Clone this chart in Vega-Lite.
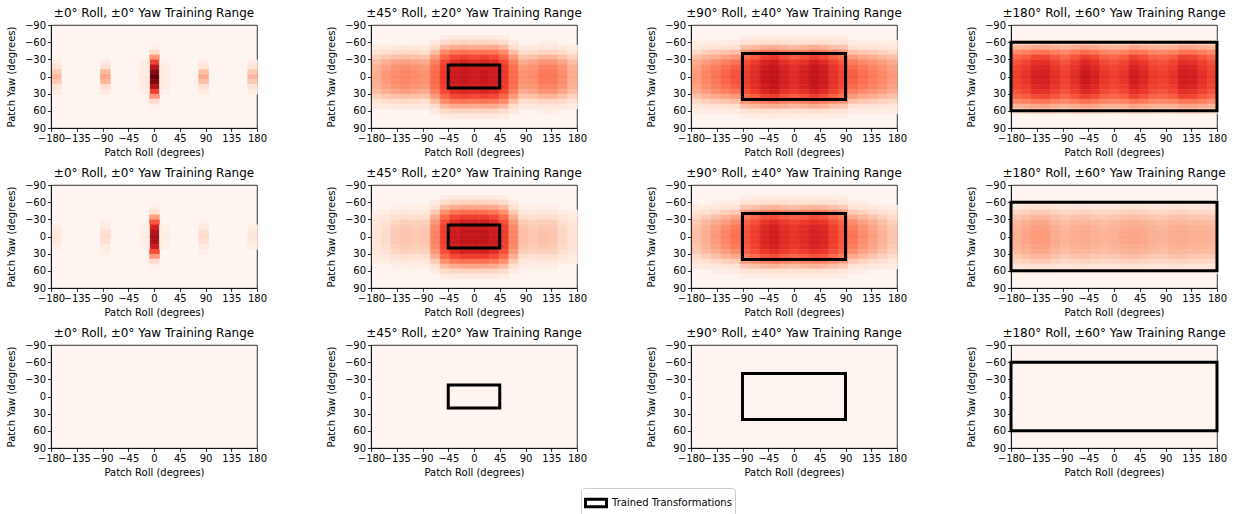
{
"$schema": "https://vega.github.io/schema/vega-lite/v6.json",
"background": "white",
"padding": {"left": 5, "top": 6, "right": 5, "bottom": 5},
"data": {"values": [
{"p":"b","x0":-45,"x1":45,"y0":-20,"y1":20},
{"p":"c","x0":-90,"x1":90,"y0":-40,"y1":40},
{"p":"d","x0":-180,"x1":180,"y0":-60,"y1":60},
{"p":"f","x0":-45,"x1":45,"y0":-20,"y1":20},
{"p":"g","x0":-90,"x1":90,"y0":-40,"y1":40},
{"p":"h","x0":-180,"x1":180,"y0":-60,"y1":60},
{"p":"j","x0":-45,"x1":45,"y0":-20,"y1":20},
{"p":"k","x0":-90,"x1":90,"y0":-40,"y1":40},
{"p":"l","x0":-180,"x1":180,"y0":-60,"y1":60},
{"p":"i"},
{"p":"a","r":0,"y":-51,"v":4},{"p":"a","r":0,"y":-43,"v":14},{"p":"a","r":0,"y":-34,"v":36},{"p":"a","r":0,"y":-26,"v":60},{"p":"a","r":0,"y":-17,"v":80},{"p":"a","r":0,"y":-9,"v":93},{"p":"a","r":0,"y":0,"v":100},{"p":"a","r":0,"y":9,"v":95},{"p":"a","r":0,"y":17,"v":82},{"p":"a","r":0,"y":26,"v":62},{"p":"a","r":0,"y":34,"v":36},{"p":"a","r":0,"y":43,"v":14},{"p":"a","r":0,"y":51,"v":4},
{"p":"a","r":-17,"y":-26,"v":4},{"p":"a","r":-17,"y":-17,"v":5},{"p":"a","r":-17,"y":-9,"v":6},{"p":"a","r":-17,"y":0,"v":6},{"p":"a","r":-17,"y":9,"v":6},{"p":"a","r":-17,"y":17,"v":5},{"p":"a","r":-17,"y":26,"v":4},
{"p":"a","r":17,"y":-26,"v":4},{"p":"a","r":17,"y":-17,"v":5},{"p":"a","r":17,"y":-9,"v":6},{"p":"a","r":17,"y":0,"v":6},{"p":"a","r":17,"y":9,"v":6},{"p":"a","r":17,"y":17,"v":5},{"p":"a","r":17,"y":26,"v":4},
{"p":"a","r":-86,"y":-26,"v":6},{"p":"a","r":-86,"y":-17,"v":12},{"p":"a","r":-86,"y":-9,"v":26},{"p":"a","r":-86,"y":0,"v":32},{"p":"a","r":-86,"y":9,"v":26},{"p":"a","r":-86,"y":17,"v":13},{"p":"a","r":-86,"y":26,"v":6},
{"p":"a","r":86,"y":-26,"v":6},{"p":"a","r":86,"y":-17,"v":11},{"p":"a","r":86,"y":-9,"v":24},{"p":"a","r":86,"y":0,"v":30},{"p":"a","r":86,"y":9,"v":24},{"p":"a","r":86,"y":17,"v":12},{"p":"a","r":86,"y":26,"v":6},
{"p":"a","r":-171,"y":-26,"v":5},{"p":"a","r":-171,"y":-17,"v":10},{"p":"a","r":-171,"y":-9,"v":20},{"p":"a","r":-171,"y":0,"v":26},{"p":"a","r":-171,"y":9,"v":20},{"p":"a","r":-171,"y":17,"v":10},{"p":"a","r":-171,"y":26,"v":5},
{"p":"a","r":171,"y":-26,"v":5},{"p":"a","r":171,"y":-17,"v":10},{"p":"a","r":171,"y":-9,"v":20},{"p":"a","r":171,"y":0,"v":26},{"p":"a","r":171,"y":9,"v":20},{"p":"a","r":171,"y":17,"v":10},{"p":"a","r":171,"y":26,"v":5},
{"p":"e","r":0,"y":-51,"v":4},{"p":"e","r":0,"y":-43,"v":12},{"p":"e","r":0,"y":-34,"v":34},{"p":"e","r":0,"y":-26,"v":55},{"p":"e","r":0,"y":-17,"v":72},{"p":"e","r":0,"y":-9,"v":82},{"p":"e","r":0,"y":0,"v":87},{"p":"e","r":0,"y":9,"v":85},{"p":"e","r":0,"y":17,"v":75},{"p":"e","r":0,"y":26,"v":58},{"p":"e","r":0,"y":34,"v":36},{"p":"e","r":0,"y":43,"v":14},{"p":"e","r":0,"y":51,"v":4},
{"p":"e","r":-17,"y":-17,"v":4},{"p":"e","r":-17,"y":-9,"v":4},{"p":"e","r":-17,"y":0,"v":5},{"p":"e","r":-17,"y":9,"v":4},{"p":"e","r":-17,"y":17,"v":4},
{"p":"e","r":17,"y":-17,"v":4},{"p":"e","r":17,"y":-9,"v":4},{"p":"e","r":17,"y":0,"v":5},{"p":"e","r":17,"y":9,"v":4},{"p":"e","r":17,"y":17,"v":4},
{"p":"e","r":-86,"y":-26,"v":4},{"p":"e","r":-86,"y":-17,"v":6},{"p":"e","r":-86,"y":-9,"v":12},{"p":"e","r":-86,"y":0,"v":14},{"p":"e","r":-86,"y":9,"v":12},{"p":"e","r":-86,"y":17,"v":6},{"p":"e","r":-86,"y":26,"v":4},
{"p":"e","r":86,"y":-26,"v":4},{"p":"e","r":86,"y":-17,"v":6},{"p":"e","r":86,"y":-9,"v":12},{"p":"e","r":86,"y":0,"v":14},{"p":"e","r":86,"y":9,"v":12},{"p":"e","r":86,"y":17,"v":6},{"p":"e","r":86,"y":26,"v":4},
{"p":"e","r":-171,"y":-17,"v":4},{"p":"e","r":-171,"y":-9,"v":7},{"p":"e","r":-171,"y":0,"v":8},{"p":"e","r":-171,"y":9,"v":7},{"p":"e","r":-171,"y":17,"v":4},
{"p":"e","r":171,"y":-17,"v":4},{"p":"e","r":171,"y":-9,"v":7},{"p":"e","r":171,"y":0,"v":8},{"p":"e","r":171,"y":9,"v":7},{"p":"e","r":171,"y":17,"v":4},
{"p":"b","r":-171,"y":-51,"v":5},{"p":"b","r":-171,"y":-43,"v":11},{"p":"b","r":-171,"y":-34,"v":17},{"p":"b","r":-171,"y":-26,"v":24},{"p":"b","r":-171,"y":-17,"v":28},{"p":"b","r":-171,"y":-9,"v":29},{"p":"b","r":-171,"y":0,"v":30},{"p":"b","r":-171,"y":9,"v":29},{"p":"b","r":-171,"y":17,"v":28},{"p":"b","r":-171,"y":26,"v":24},{"p":"b","r":-171,"y":34,"v":17},{"p":"b","r":-171,"y":43,"v":11},{"p":"b","r":-171,"y":51,"v":5},
{"p":"b","r":-154,"y":-51,"v":6},{"p":"b","r":-154,"y":-43,"v":13},{"p":"b","r":-154,"y":-34,"v":21},{"p":"b","r":-154,"y":-26,"v":29},{"p":"b","r":-154,"y":-17,"v":33},{"p":"b","r":-154,"y":-9,"v":35},{"p":"b","r":-154,"y":0,"v":36},{"p":"b","r":-154,"y":9,"v":35},{"p":"b","r":-154,"y":17,"v":33},{"p":"b","r":-154,"y":26,"v":29},{"p":"b","r":-154,"y":34,"v":21},{"p":"b","r":-154,"y":43,"v":13},{"p":"b","r":-154,"y":51,"v":6},
{"p":"b","r":-137,"y":-51,"v":7},{"p":"b","r":-137,"y":-43,"v":14},{"p":"b","r":-137,"y":-34,"v":23},{"p":"b","r":-137,"y":-26,"v":32},{"p":"b","r":-137,"y":-17,"v":37},{"p":"b","r":-137,"y":-9,"v":39},{"p":"b","r":-137,"y":0,"v":40},{"p":"b","r":-137,"y":9,"v":39},{"p":"b","r":-137,"y":17,"v":37},{"p":"b","r":-137,"y":26,"v":32},{"p":"b","r":-137,"y":34,"v":23},{"p":"b","r":-137,"y":43,"v":14},{"p":"b","r":-137,"y":51,"v":7},
{"p":"b","r":-120,"y":-51,"v":8},{"p":"b","r":-120,"y":-43,"v":15},{"p":"b","r":-120,"y":-34,"v":24},{"p":"b","r":-120,"y":-26,"v":34},{"p":"b","r":-120,"y":-17,"v":39},{"p":"b","r":-120,"y":-9,"v":41},{"p":"b","r":-120,"y":0,"v":42},{"p":"b","r":-120,"y":9,"v":41},{"p":"b","r":-120,"y":17,"v":39},{"p":"b","r":-120,"y":26,"v":34},{"p":"b","r":-120,"y":34,"v":24},{"p":"b","r":-120,"y":43,"v":15},{"p":"b","r":-120,"y":51,"v":8},
{"p":"b","r":-103,"y":-51,"v":7},{"p":"b","r":-103,"y":-43,"v":14},{"p":"b","r":-103,"y":-34,"v":23},{"p":"b","r":-103,"y":-26,"v":32},{"p":"b","r":-103,"y":-17,"v":37},{"p":"b","r":-103,"y":-9,"v":39},{"p":"b","r":-103,"y":0,"v":40},{"p":"b","r":-103,"y":9,"v":39},{"p":"b","r":-103,"y":17,"v":37},{"p":"b","r":-103,"y":26,"v":32},{"p":"b","r":-103,"y":34,"v":23},{"p":"b","r":-103,"y":43,"v":14},{"p":"b","r":-103,"y":51,"v":7},
{"p":"b","r":-86,"y":-51,"v":7},{"p":"b","r":-86,"y":-43,"v":13},{"p":"b","r":-86,"y":-34,"v":22},{"p":"b","r":-86,"y":-26,"v":30},{"p":"b","r":-86,"y":-17,"v":35},{"p":"b","r":-86,"y":-9,"v":37},{"p":"b","r":-86,"y":0,"v":38},{"p":"b","r":-86,"y":9,"v":37},{"p":"b","r":-86,"y":17,"v":35},{"p":"b","r":-86,"y":26,"v":30},{"p":"b","r":-86,"y":34,"v":22},{"p":"b","r":-86,"y":43,"v":13},{"p":"b","r":-86,"y":51,"v":7},
{"p":"b","r":-69,"y":-60,"v":7},{"p":"b","r":-69,"y":-51,"v":14},{"p":"b","r":-69,"y":-43,"v":24},{"p":"b","r":-69,"y":-34,"v":35},{"p":"b","r":-69,"y":-26,"v":43},{"p":"b","r":-69,"y":-17,"v":48},{"p":"b","r":-69,"y":-9,"v":50},{"p":"b","r":-69,"y":0,"v":50},{"p":"b","r":-69,"y":9,"v":50},{"p":"b","r":-69,"y":17,"v":48},{"p":"b","r":-69,"y":26,"v":43},{"p":"b","r":-69,"y":34,"v":35},{"p":"b","r":-69,"y":43,"v":24},{"p":"b","r":-69,"y":51,"v":14},{"p":"b","r":-69,"y":60,"v":7},
{"p":"b","r":-51,"y":-69,"v":6},{"p":"b","r":-51,"y":-60,"v":14},{"p":"b","r":-51,"y":-51,"v":26},{"p":"b","r":-51,"y":-43,"v":40},{"p":"b","r":-51,"y":-34,"v":51},{"p":"b","r":-51,"y":-26,"v":59},{"p":"b","r":-51,"y":-17,"v":63},{"p":"b","r":-51,"y":-9,"v":64},{"p":"b","r":-51,"y":0,"v":64},{"p":"b","r":-51,"y":9,"v":64},{"p":"b","r":-51,"y":17,"v":63},{"p":"b","r":-51,"y":26,"v":59},{"p":"b","r":-51,"y":34,"v":51},{"p":"b","r":-51,"y":43,"v":40},{"p":"b","r":-51,"y":51,"v":26},{"p":"b","r":-51,"y":60,"v":14},{"p":"b","r":-51,"y":69,"v":6},
{"p":"b","r":-34,"y":-69,"v":7},{"p":"b","r":-34,"y":-60,"v":16},{"p":"b","r":-34,"y":-51,"v":30},{"p":"b","r":-34,"y":-43,"v":46},{"p":"b","r":-34,"y":-34,"v":59},{"p":"b","r":-34,"y":-26,"v":68},{"p":"b","r":-34,"y":-17,"v":73},{"p":"b","r":-34,"y":-9,"v":74},{"p":"b","r":-34,"y":0,"v":74},{"p":"b","r":-34,"y":9,"v":74},{"p":"b","r":-34,"y":17,"v":73},{"p":"b","r":-34,"y":26,"v":68},{"p":"b","r":-34,"y":34,"v":59},{"p":"b","r":-34,"y":43,"v":46},{"p":"b","r":-34,"y":51,"v":30},{"p":"b","r":-34,"y":60,"v":16},{"p":"b","r":-34,"y":69,"v":7},
{"p":"b","r":-17,"y":-69,"v":8},{"p":"b","r":-17,"y":-60,"v":17},{"p":"b","r":-17,"y":-51,"v":30},{"p":"b","r":-17,"y":-43,"v":47},{"p":"b","r":-17,"y":-34,"v":61},{"p":"b","r":-17,"y":-26,"v":70},{"p":"b","r":-17,"y":-17,"v":74},{"p":"b","r":-17,"y":-9,"v":76},{"p":"b","r":-17,"y":0,"v":76},{"p":"b","r":-17,"y":9,"v":76},{"p":"b","r":-17,"y":17,"v":74},{"p":"b","r":-17,"y":26,"v":70},{"p":"b","r":-17,"y":34,"v":61},{"p":"b","r":-17,"y":43,"v":47},{"p":"b","r":-17,"y":51,"v":30},{"p":"b","r":-17,"y":60,"v":17},{"p":"b","r":-17,"y":69,"v":8},
{"p":"b","r":0,"y":-69,"v":7},{"p":"b","r":0,"y":-60,"v":16},{"p":"b","r":0,"y":-51,"v":30},{"p":"b","r":0,"y":-43,"v":46},{"p":"b","r":0,"y":-34,"v":59},{"p":"b","r":0,"y":-26,"v":68},{"p":"b","r":0,"y":-17,"v":73},{"p":"b","r":0,"y":-9,"v":74},{"p":"b","r":0,"y":0,"v":74},{"p":"b","r":0,"y":9,"v":74},{"p":"b","r":0,"y":17,"v":73},{"p":"b","r":0,"y":26,"v":68},{"p":"b","r":0,"y":34,"v":59},{"p":"b","r":0,"y":43,"v":46},{"p":"b","r":0,"y":51,"v":30},{"p":"b","r":0,"y":60,"v":16},{"p":"b","r":0,"y":69,"v":7},
{"p":"b","r":17,"y":-69,"v":8},{"p":"b","r":17,"y":-60,"v":17},{"p":"b","r":17,"y":-51,"v":30},{"p":"b","r":17,"y":-43,"v":47},{"p":"b","r":17,"y":-34,"v":61},{"p":"b","r":17,"y":-26,"v":70},{"p":"b","r":17,"y":-17,"v":74},{"p":"b","r":17,"y":-9,"v":76},{"p":"b","r":17,"y":0,"v":76},{"p":"b","r":17,"y":9,"v":76},{"p":"b","r":17,"y":17,"v":74},{"p":"b","r":17,"y":26,"v":70},{"p":"b","r":17,"y":34,"v":61},{"p":"b","r":17,"y":43,"v":47},{"p":"b","r":17,"y":51,"v":30},{"p":"b","r":17,"y":60,"v":17},{"p":"b","r":17,"y":69,"v":8},
{"p":"b","r":34,"y":-69,"v":7},{"p":"b","r":34,"y":-60,"v":16},{"p":"b","r":34,"y":-51,"v":30},{"p":"b","r":34,"y":-43,"v":46},{"p":"b","r":34,"y":-34,"v":59},{"p":"b","r":34,"y":-26,"v":68},{"p":"b","r":34,"y":-17,"v":73},{"p":"b","r":34,"y":-9,"v":74},{"p":"b","r":34,"y":0,"v":74},{"p":"b","r":34,"y":9,"v":74},{"p":"b","r":34,"y":17,"v":73},{"p":"b","r":34,"y":26,"v":68},{"p":"b","r":34,"y":34,"v":59},{"p":"b","r":34,"y":43,"v":46},{"p":"b","r":34,"y":51,"v":30},{"p":"b","r":34,"y":60,"v":16},{"p":"b","r":34,"y":69,"v":7},
{"p":"b","r":51,"y":-69,"v":6},{"p":"b","r":51,"y":-60,"v":14},{"p":"b","r":51,"y":-51,"v":26},{"p":"b","r":51,"y":-43,"v":40},{"p":"b","r":51,"y":-34,"v":51},{"p":"b","r":51,"y":-26,"v":59},{"p":"b","r":51,"y":-17,"v":63},{"p":"b","r":51,"y":-9,"v":64},{"p":"b","r":51,"y":0,"v":64},{"p":"b","r":51,"y":9,"v":64},{"p":"b","r":51,"y":17,"v":63},{"p":"b","r":51,"y":26,"v":59},{"p":"b","r":51,"y":34,"v":51},{"p":"b","r":51,"y":43,"v":40},{"p":"b","r":51,"y":51,"v":26},{"p":"b","r":51,"y":60,"v":14},{"p":"b","r":51,"y":69,"v":6},
{"p":"b","r":69,"y":-60,"v":7},{"p":"b","r":69,"y":-51,"v":14},{"p":"b","r":69,"y":-43,"v":24},{"p":"b","r":69,"y":-34,"v":35},{"p":"b","r":69,"y":-26,"v":43},{"p":"b","r":69,"y":-17,"v":48},{"p":"b","r":69,"y":-9,"v":50},{"p":"b","r":69,"y":0,"v":50},{"p":"b","r":69,"y":9,"v":50},{"p":"b","r":69,"y":17,"v":48},{"p":"b","r":69,"y":26,"v":43},{"p":"b","r":69,"y":34,"v":35},{"p":"b","r":69,"y":43,"v":24},{"p":"b","r":69,"y":51,"v":14},{"p":"b","r":69,"y":60,"v":7},
{"p":"b","r":86,"y":-51,"v":7},{"p":"b","r":86,"y":-43,"v":13},{"p":"b","r":86,"y":-34,"v":22},{"p":"b","r":86,"y":-26,"v":30},{"p":"b","r":86,"y":-17,"v":35},{"p":"b","r":86,"y":-9,"v":37},{"p":"b","r":86,"y":0,"v":38},{"p":"b","r":86,"y":9,"v":37},{"p":"b","r":86,"y":17,"v":35},{"p":"b","r":86,"y":26,"v":30},{"p":"b","r":86,"y":34,"v":22},{"p":"b","r":86,"y":43,"v":13},{"p":"b","r":86,"y":51,"v":7},
{"p":"b","r":103,"y":-51,"v":7},{"p":"b","r":103,"y":-43,"v":14},{"p":"b","r":103,"y":-34,"v":23},{"p":"b","r":103,"y":-26,"v":32},{"p":"b","r":103,"y":-17,"v":37},{"p":"b","r":103,"y":-9,"v":39},{"p":"b","r":103,"y":0,"v":40},{"p":"b","r":103,"y":9,"v":39},{"p":"b","r":103,"y":17,"v":37},{"p":"b","r":103,"y":26,"v":32},{"p":"b","r":103,"y":34,"v":23},{"p":"b","r":103,"y":43,"v":14},{"p":"b","r":103,"y":51,"v":7},
{"p":"b","r":120,"y":-60,"v":4},{"p":"b","r":120,"y":-51,"v":8},{"p":"b","r":120,"y":-43,"v":16},{"p":"b","r":120,"y":-34,"v":27},{"p":"b","r":120,"y":-26,"v":37},{"p":"b","r":120,"y":-17,"v":42},{"p":"b","r":120,"y":-9,"v":45},{"p":"b","r":120,"y":0,"v":46},{"p":"b","r":120,"y":9,"v":45},{"p":"b","r":120,"y":17,"v":42},{"p":"b","r":120,"y":26,"v":37},{"p":"b","r":120,"y":34,"v":27},{"p":"b","r":120,"y":43,"v":16},{"p":"b","r":120,"y":51,"v":8},{"p":"b","r":120,"y":60,"v":4},
{"p":"b","r":137,"y":-60,"v":4},{"p":"b","r":137,"y":-51,"v":8},{"p":"b","r":137,"y":-43,"v":16},{"p":"b","r":137,"y":-34,"v":27},{"p":"b","r":137,"y":-26,"v":37},{"p":"b","r":137,"y":-17,"v":42},{"p":"b","r":137,"y":-9,"v":45},{"p":"b","r":137,"y":0,"v":46},{"p":"b","r":137,"y":9,"v":45},{"p":"b","r":137,"y":17,"v":42},{"p":"b","r":137,"y":26,"v":37},{"p":"b","r":137,"y":34,"v":27},{"p":"b","r":137,"y":43,"v":16},{"p":"b","r":137,"y":51,"v":8},{"p":"b","r":137,"y":60,"v":4},
{"p":"b","r":154,"y":-51,"v":7},{"p":"b","r":154,"y":-43,"v":14},{"p":"b","r":154,"y":-34,"v":23},{"p":"b","r":154,"y":-26,"v":32},{"p":"b","r":154,"y":-17,"v":37},{"p":"b","r":154,"y":-9,"v":39},{"p":"b","r":154,"y":0,"v":40},{"p":"b","r":154,"y":9,"v":39},{"p":"b","r":154,"y":17,"v":37},{"p":"b","r":154,"y":26,"v":32},{"p":"b","r":154,"y":34,"v":23},{"p":"b","r":154,"y":43,"v":14},{"p":"b","r":154,"y":51,"v":7},
{"p":"b","r":171,"y":-51,"v":5},{"p":"b","r":171,"y":-43,"v":11},{"p":"b","r":171,"y":-34,"v":17},{"p":"b","r":171,"y":-26,"v":24},{"p":"b","r":171,"y":-17,"v":28},{"p":"b","r":171,"y":-9,"v":29},{"p":"b","r":171,"y":0,"v":30},{"p":"b","r":171,"y":9,"v":29},{"p":"b","r":171,"y":17,"v":28},{"p":"b","r":171,"y":26,"v":24},{"p":"b","r":171,"y":34,"v":17},{"p":"b","r":171,"y":43,"v":11},{"p":"b","r":171,"y":51,"v":5},
{"p":"c","r":-171,"y":-60,"v":4},{"p":"c","r":-171,"y":-51,"v":8},{"p":"c","r":-171,"y":-43,"v":15},{"p":"c","r":-171,"y":-34,"v":23},{"p":"c","r":-171,"y":-26,"v":30},{"p":"c","r":-171,"y":-17,"v":33},{"p":"c","r":-171,"y":-9,"v":35},{"p":"c","r":-171,"y":0,"v":36},{"p":"c","r":-171,"y":9,"v":35},{"p":"c","r":-171,"y":17,"v":33},{"p":"c","r":-171,"y":26,"v":30},{"p":"c","r":-171,"y":34,"v":23},{"p":"c","r":-171,"y":43,"v":15},{"p":"c","r":-171,"y":51,"v":8},{"p":"c","r":-171,"y":60,"v":4},
{"p":"c","r":-154,"y":-60,"v":4},{"p":"c","r":-154,"y":-51,"v":10},{"p":"c","r":-154,"y":-43,"v":18},{"p":"c","r":-154,"y":-34,"v":27},{"p":"c","r":-154,"y":-26,"v":34},{"p":"c","r":-154,"y":-17,"v":39},{"p":"c","r":-154,"y":-9,"v":41},{"p":"c","r":-154,"y":0,"v":42},{"p":"c","r":-154,"y":9,"v":41},{"p":"c","r":-154,"y":17,"v":39},{"p":"c","r":-154,"y":26,"v":34},{"p":"c","r":-154,"y":34,"v":27},{"p":"c","r":-154,"y":43,"v":18},{"p":"c","r":-154,"y":51,"v":10},{"p":"c","r":-154,"y":60,"v":4},
{"p":"c","r":-137,"y":-60,"v":5},{"p":"c","r":-137,"y":-51,"v":11},{"p":"c","r":-137,"y":-43,"v":20},{"p":"c","r":-137,"y":-34,"v":30},{"p":"c","r":-137,"y":-26,"v":39},{"p":"c","r":-137,"y":-17,"v":44},{"p":"c","r":-137,"y":-9,"v":46},{"p":"c","r":-137,"y":0,"v":47},{"p":"c","r":-137,"y":9,"v":46},{"p":"c","r":-137,"y":17,"v":44},{"p":"c","r":-137,"y":26,"v":39},{"p":"c","r":-137,"y":34,"v":30},{"p":"c","r":-137,"y":43,"v":20},{"p":"c","r":-137,"y":51,"v":11},{"p":"c","r":-137,"y":60,"v":5},
{"p":"c","r":-120,"y":-60,"v":5},{"p":"c","r":-120,"y":-51,"v":12},{"p":"c","r":-120,"y":-43,"v":22},{"p":"c","r":-120,"y":-34,"v":33},{"p":"c","r":-120,"y":-26,"v":43},{"p":"c","r":-120,"y":-17,"v":48},{"p":"c","r":-120,"y":-9,"v":51},{"p":"c","r":-120,"y":0,"v":52},{"p":"c","r":-120,"y":9,"v":51},{"p":"c","r":-120,"y":17,"v":48},{"p":"c","r":-120,"y":26,"v":43},{"p":"c","r":-120,"y":34,"v":33},{"p":"c","r":-120,"y":43,"v":22},{"p":"c","r":-120,"y":51,"v":12},{"p":"c","r":-120,"y":60,"v":5},
{"p":"c","r":-103,"y":-60,"v":6},{"p":"c","r":-103,"y":-51,"v":13},{"p":"c","r":-103,"y":-43,"v":24},{"p":"c","r":-103,"y":-34,"v":36},{"p":"c","r":-103,"y":-26,"v":47},{"p":"c","r":-103,"y":-17,"v":53},{"p":"c","r":-103,"y":-9,"v":56},{"p":"c","r":-103,"y":0,"v":57},{"p":"c","r":-103,"y":9,"v":56},{"p":"c","r":-103,"y":17,"v":53},{"p":"c","r":-103,"y":26,"v":47},{"p":"c","r":-103,"y":34,"v":36},{"p":"c","r":-103,"y":43,"v":24},{"p":"c","r":-103,"y":51,"v":13},{"p":"c","r":-103,"y":60,"v":6},
{"p":"c","r":-86,"y":-69,"v":4},{"p":"c","r":-86,"y":-60,"v":11},{"p":"c","r":-86,"y":-51,"v":23},{"p":"c","r":-86,"y":-43,"v":37},{"p":"c","r":-86,"y":-34,"v":50},{"p":"c","r":-86,"y":-26,"v":57},{"p":"c","r":-86,"y":-17,"v":61},{"p":"c","r":-86,"y":-9,"v":62},{"p":"c","r":-86,"y":0,"v":62},{"p":"c","r":-86,"y":9,"v":62},{"p":"c","r":-86,"y":17,"v":61},{"p":"c","r":-86,"y":26,"v":57},{"p":"c","r":-86,"y":34,"v":50},{"p":"c","r":-86,"y":43,"v":37},{"p":"c","r":-86,"y":51,"v":23},{"p":"c","r":-86,"y":60,"v":11},{"p":"c","r":-86,"y":69,"v":4},
{"p":"c","r":-69,"y":-69,"v":5},{"p":"c","r":-69,"y":-60,"v":12},{"p":"c","r":-69,"y":-51,"v":25},{"p":"c","r":-69,"y":-43,"v":41},{"p":"c","r":-69,"y":-34,"v":54},{"p":"c","r":-69,"y":-26,"v":63},{"p":"c","r":-69,"y":-17,"v":67},{"p":"c","r":-69,"y":-9,"v":68},{"p":"c","r":-69,"y":0,"v":68},{"p":"c","r":-69,"y":9,"v":68},{"p":"c","r":-69,"y":17,"v":67},{"p":"c","r":-69,"y":26,"v":63},{"p":"c","r":-69,"y":34,"v":54},{"p":"c","r":-69,"y":43,"v":41},{"p":"c","r":-69,"y":51,"v":25},{"p":"c","r":-69,"y":60,"v":12},{"p":"c","r":-69,"y":69,"v":5},
{"p":"c","r":-51,"y":-69,"v":5},{"p":"c","r":-51,"y":-60,"v":13},{"p":"c","r":-51,"y":-51,"v":28},{"p":"c","r":-51,"y":-43,"v":46},{"p":"c","r":-51,"y":-34,"v":61},{"p":"c","r":-51,"y":-26,"v":70},{"p":"c","r":-51,"y":-17,"v":74},{"p":"c","r":-51,"y":-9,"v":76},{"p":"c","r":-51,"y":0,"v":76},{"p":"c","r":-51,"y":9,"v":76},{"p":"c","r":-51,"y":17,"v":74},{"p":"c","r":-51,"y":26,"v":70},{"p":"c","r":-51,"y":34,"v":61},{"p":"c","r":-51,"y":43,"v":46},{"p":"c","r":-51,"y":51,"v":28},{"p":"c","r":-51,"y":60,"v":13},{"p":"c","r":-51,"y":69,"v":5},
{"p":"c","r":-34,"y":-69,"v":6},{"p":"c","r":-34,"y":-60,"v":13},{"p":"c","r":-34,"y":-51,"v":29},{"p":"c","r":-34,"y":-43,"v":47},{"p":"c","r":-34,"y":-34,"v":63},{"p":"c","r":-34,"y":-26,"v":73},{"p":"c","r":-34,"y":-17,"v":77},{"p":"c","r":-34,"y":-9,"v":79},{"p":"c","r":-34,"y":0,"v":79},{"p":"c","r":-34,"y":9,"v":79},{"p":"c","r":-34,"y":17,"v":77},{"p":"c","r":-34,"y":26,"v":73},{"p":"c","r":-34,"y":34,"v":63},{"p":"c","r":-34,"y":43,"v":47},{"p":"c","r":-34,"y":51,"v":29},{"p":"c","r":-34,"y":60,"v":13},{"p":"c","r":-34,"y":69,"v":6},
{"p":"c","r":-17,"y":-69,"v":5},{"p":"c","r":-17,"y":-60,"v":12},{"p":"c","r":-17,"y":-51,"v":27},{"p":"c","r":-17,"y":-43,"v":43},{"p":"c","r":-17,"y":-34,"v":58},{"p":"c","r":-17,"y":-26,"v":66},{"p":"c","r":-17,"y":-17,"v":71},{"p":"c","r":-17,"y":-9,"v":72},{"p":"c","r":-17,"y":0,"v":72},{"p":"c","r":-17,"y":9,"v":72},{"p":"c","r":-17,"y":17,"v":71},{"p":"c","r":-17,"y":26,"v":66},{"p":"c","r":-17,"y":34,"v":58},{"p":"c","r":-17,"y":43,"v":43},{"p":"c","r":-17,"y":51,"v":27},{"p":"c","r":-17,"y":60,"v":12},{"p":"c","r":-17,"y":69,"v":5},
{"p":"c","r":0,"y":-69,"v":5},{"p":"c","r":0,"y":-60,"v":12},{"p":"c","r":0,"y":-51,"v":25},{"p":"c","r":0,"y":-43,"v":41},{"p":"c","r":0,"y":-34,"v":54},{"p":"c","r":0,"y":-26,"v":63},{"p":"c","r":0,"y":-17,"v":67},{"p":"c","r":0,"y":-9,"v":68},{"p":"c","r":0,"y":0,"v":68},{"p":"c","r":0,"y":9,"v":68},{"p":"c","r":0,"y":17,"v":67},{"p":"c","r":0,"y":26,"v":63},{"p":"c","r":0,"y":34,"v":54},{"p":"c","r":0,"y":43,"v":41},{"p":"c","r":0,"y":51,"v":25},{"p":"c","r":0,"y":60,"v":12},{"p":"c","r":0,"y":69,"v":5},
{"p":"c","r":17,"y":-69,"v":5},{"p":"c","r":17,"y":-60,"v":12},{"p":"c","r":17,"y":-51,"v":27},{"p":"c","r":17,"y":-43,"v":43},{"p":"c","r":17,"y":-34,"v":58},{"p":"c","r":17,"y":-26,"v":66},{"p":"c","r":17,"y":-17,"v":71},{"p":"c","r":17,"y":-9,"v":72},{"p":"c","r":17,"y":0,"v":72},{"p":"c","r":17,"y":9,"v":72},{"p":"c","r":17,"y":17,"v":71},{"p":"c","r":17,"y":26,"v":66},{"p":"c","r":17,"y":34,"v":58},{"p":"c","r":17,"y":43,"v":43},{"p":"c","r":17,"y":51,"v":27},{"p":"c","r":17,"y":60,"v":12},{"p":"c","r":17,"y":69,"v":5},
{"p":"c","r":34,"y":-69,"v":5},{"p":"c","r":34,"y":-60,"v":13},{"p":"c","r":34,"y":-51,"v":29},{"p":"c","r":34,"y":-43,"v":47},{"p":"c","r":34,"y":-34,"v":62},{"p":"c","r":34,"y":-26,"v":72},{"p":"c","r":34,"y":-17,"v":76},{"p":"c","r":34,"y":-9,"v":78},{"p":"c","r":34,"y":0,"v":78},{"p":"c","r":34,"y":9,"v":78},{"p":"c","r":34,"y":17,"v":76},{"p":"c","r":34,"y":26,"v":72},{"p":"c","r":34,"y":34,"v":62},{"p":"c","r":34,"y":43,"v":47},{"p":"c","r":34,"y":51,"v":29},{"p":"c","r":34,"y":60,"v":13},{"p":"c","r":34,"y":69,"v":5},
{"p":"c","r":51,"y":-69,"v":5},{"p":"c","r":51,"y":-60,"v":13},{"p":"c","r":51,"y":-51,"v":27},{"p":"c","r":51,"y":-43,"v":44},{"p":"c","r":51,"y":-34,"v":59},{"p":"c","r":51,"y":-26,"v":68},{"p":"c","r":51,"y":-17,"v":73},{"p":"c","r":51,"y":-9,"v":74},{"p":"c","r":51,"y":0,"v":74},{"p":"c","r":51,"y":9,"v":74},{"p":"c","r":51,"y":17,"v":73},{"p":"c","r":51,"y":26,"v":68},{"p":"c","r":51,"y":34,"v":59},{"p":"c","r":51,"y":43,"v":44},{"p":"c","r":51,"y":51,"v":27},{"p":"c","r":51,"y":60,"v":13},{"p":"c","r":51,"y":69,"v":5},
{"p":"c","r":69,"y":-69,"v":5},{"p":"c","r":69,"y":-60,"v":11},{"p":"c","r":69,"y":-51,"v":24},{"p":"c","r":69,"y":-43,"v":40},{"p":"c","r":69,"y":-34,"v":53},{"p":"c","r":69,"y":-26,"v":61},{"p":"c","r":69,"y":-17,"v":65},{"p":"c","r":69,"y":-9,"v":66},{"p":"c","r":69,"y":0,"v":66},{"p":"c","r":69,"y":9,"v":66},{"p":"c","r":69,"y":17,"v":65},{"p":"c","r":69,"y":26,"v":61},{"p":"c","r":69,"y":34,"v":53},{"p":"c","r":69,"y":43,"v":40},{"p":"c","r":69,"y":51,"v":24},{"p":"c","r":69,"y":60,"v":11},{"p":"c","r":69,"y":69,"v":5},
{"p":"c","r":86,"y":-69,"v":4},{"p":"c","r":86,"y":-60,"v":10},{"p":"c","r":86,"y":-51,"v":22},{"p":"c","r":86,"y":-43,"v":36},{"p":"c","r":86,"y":-34,"v":48},{"p":"c","r":86,"y":-26,"v":55},{"p":"c","r":86,"y":-17,"v":59},{"p":"c","r":86,"y":-9,"v":60},{"p":"c","r":86,"y":0,"v":60},{"p":"c","r":86,"y":9,"v":60},{"p":"c","r":86,"y":17,"v":59},{"p":"c","r":86,"y":26,"v":55},{"p":"c","r":86,"y":34,"v":48},{"p":"c","r":86,"y":43,"v":36},{"p":"c","r":86,"y":51,"v":22},{"p":"c","r":86,"y":60,"v":10},{"p":"c","r":86,"y":69,"v":4},
{"p":"c","r":103,"y":-60,"v":5},{"p":"c","r":103,"y":-51,"v":12},{"p":"c","r":103,"y":-43,"v":23},{"p":"c","r":103,"y":-34,"v":35},{"p":"c","r":103,"y":-26,"v":44},{"p":"c","r":103,"y":-17,"v":50},{"p":"c","r":103,"y":-9,"v":53},{"p":"c","r":103,"y":0,"v":54},{"p":"c","r":103,"y":9,"v":53},{"p":"c","r":103,"y":17,"v":50},{"p":"c","r":103,"y":26,"v":44},{"p":"c","r":103,"y":34,"v":35},{"p":"c","r":103,"y":43,"v":23},{"p":"c","r":103,"y":51,"v":12},{"p":"c","r":103,"y":60,"v":5},
{"p":"c","r":120,"y":-60,"v":5},{"p":"c","r":120,"y":-51,"v":11},{"p":"c","r":120,"y":-43,"v":21},{"p":"c","r":120,"y":-34,"v":31},{"p":"c","r":120,"y":-26,"v":40},{"p":"c","r":120,"y":-17,"v":46},{"p":"c","r":120,"y":-9,"v":48},{"p":"c","r":120,"y":0,"v":49},{"p":"c","r":120,"y":9,"v":48},{"p":"c","r":120,"y":17,"v":46},{"p":"c","r":120,"y":26,"v":40},{"p":"c","r":120,"y":34,"v":31},{"p":"c","r":120,"y":43,"v":21},{"p":"c","r":120,"y":51,"v":11},{"p":"c","r":120,"y":60,"v":5},
{"p":"c","r":137,"y":-60,"v":5},{"p":"c","r":137,"y":-51,"v":10},{"p":"c","r":137,"y":-43,"v":19},{"p":"c","r":137,"y":-34,"v":29},{"p":"c","r":137,"y":-26,"v":37},{"p":"c","r":137,"y":-17,"v":42},{"p":"c","r":137,"y":-9,"v":44},{"p":"c","r":137,"y":0,"v":45},{"p":"c","r":137,"y":9,"v":44},{"p":"c","r":137,"y":17,"v":42},{"p":"c","r":137,"y":26,"v":37},{"p":"c","r":137,"y":34,"v":29},{"p":"c","r":137,"y":43,"v":19},{"p":"c","r":137,"y":51,"v":10},{"p":"c","r":137,"y":60,"v":5},
{"p":"c","r":154,"y":-60,"v":4},{"p":"c","r":154,"y":-51,"v":9},{"p":"c","r":154,"y":-43,"v":17},{"p":"c","r":154,"y":-34,"v":26},{"p":"c","r":154,"y":-26,"v":34},{"p":"c","r":154,"y":-17,"v":38},{"p":"c","r":154,"y":-9,"v":40},{"p":"c","r":154,"y":0,"v":41},{"p":"c","r":154,"y":9,"v":40},{"p":"c","r":154,"y":17,"v":38},{"p":"c","r":154,"y":26,"v":34},{"p":"c","r":154,"y":34,"v":26},{"p":"c","r":154,"y":43,"v":17},{"p":"c","r":154,"y":51,"v":9},{"p":"c","r":154,"y":60,"v":4},
{"p":"c","r":171,"y":-60,"v":4},{"p":"c","r":171,"y":-51,"v":8},{"p":"c","r":171,"y":-43,"v":15},{"p":"c","r":171,"y":-34,"v":23},{"p":"c","r":171,"y":-26,"v":30},{"p":"c","r":171,"y":-17,"v":33},{"p":"c","r":171,"y":-9,"v":35},{"p":"c","r":171,"y":0,"v":36},{"p":"c","r":171,"y":9,"v":35},{"p":"c","r":171,"y":17,"v":33},{"p":"c","r":171,"y":26,"v":30},{"p":"c","r":171,"y":34,"v":23},{"p":"c","r":171,"y":43,"v":15},{"p":"c","r":171,"y":51,"v":8},{"p":"c","r":171,"y":60,"v":4},
{"p":"d","r":-171,"y":-60,"v":12},{"p":"d","r":-171,"y":-51,"v":27},{"p":"d","r":-171,"y":-43,"v":40},{"p":"d","r":-171,"y":-34,"v":51},{"p":"d","r":-171,"y":-26,"v":56},{"p":"d","r":-171,"y":-17,"v":60},{"p":"d","r":-171,"y":-9,"v":61},{"p":"d","r":-171,"y":0,"v":62},{"p":"d","r":-171,"y":9,"v":61},{"p":"d","r":-171,"y":17,"v":60},{"p":"d","r":-171,"y":26,"v":56},{"p":"d","r":-171,"y":34,"v":51},{"p":"d","r":-171,"y":43,"v":40},{"p":"d","r":-171,"y":51,"v":27},{"p":"d","r":-171,"y":60,"v":12},
{"p":"d","r":-154,"y":-60,"v":13},{"p":"d","r":-154,"y":-51,"v":28},{"p":"d","r":-154,"y":-43,"v":42},{"p":"d","r":-154,"y":-34,"v":54},{"p":"d","r":-154,"y":-26,"v":60},{"p":"d","r":-154,"y":-17,"v":63},{"p":"d","r":-154,"y":-9,"v":65},{"p":"d","r":-154,"y":0,"v":66},{"p":"d","r":-154,"y":9,"v":65},{"p":"d","r":-154,"y":17,"v":63},{"p":"d","r":-154,"y":26,"v":60},{"p":"d","r":-154,"y":34,"v":54},{"p":"d","r":-154,"y":43,"v":42},{"p":"d","r":-154,"y":51,"v":28},{"p":"d","r":-154,"y":60,"v":13},
{"p":"d","r":-137,"y":-60,"v":14},{"p":"d","r":-137,"y":-51,"v":31},{"p":"d","r":-137,"y":-43,"v":46},{"p":"d","r":-137,"y":-34,"v":59},{"p":"d","r":-137,"y":-26,"v":66},{"p":"d","r":-137,"y":-17,"v":69},{"p":"d","r":-137,"y":-9,"v":71},{"p":"d","r":-137,"y":0,"v":72},{"p":"d","r":-137,"y":9,"v":71},{"p":"d","r":-137,"y":17,"v":69},{"p":"d","r":-137,"y":26,"v":66},{"p":"d","r":-137,"y":34,"v":59},{"p":"d","r":-137,"y":43,"v":46},{"p":"d","r":-137,"y":51,"v":31},{"p":"d","r":-137,"y":60,"v":14},
{"p":"d","r":-120,"y":-60,"v":15},{"p":"d","r":-120,"y":-51,"v":31},{"p":"d","r":-120,"y":-43,"v":47},{"p":"d","r":-120,"y":-34,"v":60},{"p":"d","r":-120,"y":-26,"v":66},{"p":"d","r":-120,"y":-17,"v":70},{"p":"d","r":-120,"y":-9,"v":72},{"p":"d","r":-120,"y":0,"v":73},{"p":"d","r":-120,"y":9,"v":72},{"p":"d","r":-120,"y":17,"v":70},{"p":"d","r":-120,"y":26,"v":66},{"p":"d","r":-120,"y":34,"v":60},{"p":"d","r":-120,"y":43,"v":47},{"p":"d","r":-120,"y":51,"v":31},{"p":"d","r":-120,"y":60,"v":15},
{"p":"d","r":-103,"y":-60,"v":13},{"p":"d","r":-103,"y":-51,"v":29},{"p":"d","r":-103,"y":-43,"v":43},{"p":"d","r":-103,"y":-34,"v":55},{"p":"d","r":-103,"y":-26,"v":61},{"p":"d","r":-103,"y":-17,"v":64},{"p":"d","r":-103,"y":-9,"v":66},{"p":"d","r":-103,"y":0,"v":67},{"p":"d","r":-103,"y":9,"v":66},{"p":"d","r":-103,"y":17,"v":64},{"p":"d","r":-103,"y":26,"v":61},{"p":"d","r":-103,"y":34,"v":55},{"p":"d","r":-103,"y":43,"v":43},{"p":"d","r":-103,"y":51,"v":29},{"p":"d","r":-103,"y":60,"v":13},
{"p":"d","r":-86,"y":-60,"v":12},{"p":"d","r":-86,"y":-51,"v":27},{"p":"d","r":-86,"y":-43,"v":40},{"p":"d","r":-86,"y":-34,"v":51},{"p":"d","r":-86,"y":-26,"v":56},{"p":"d","r":-86,"y":-17,"v":60},{"p":"d","r":-86,"y":-9,"v":61},{"p":"d","r":-86,"y":0,"v":62},{"p":"d","r":-86,"y":9,"v":61},{"p":"d","r":-86,"y":17,"v":60},{"p":"d","r":-86,"y":26,"v":56},{"p":"d","r":-86,"y":34,"v":51},{"p":"d","r":-86,"y":43,"v":40},{"p":"d","r":-86,"y":51,"v":27},{"p":"d","r":-86,"y":60,"v":12},
{"p":"d","r":-69,"y":-60,"v":14},{"p":"d","r":-69,"y":-51,"v":29},{"p":"d","r":-69,"y":-43,"v":44},{"p":"d","r":-69,"y":-34,"v":56},{"p":"d","r":-69,"y":-26,"v":62},{"p":"d","r":-69,"y":-17,"v":65},{"p":"d","r":-69,"y":-9,"v":67},{"p":"d","r":-69,"y":0,"v":68},{"p":"d","r":-69,"y":9,"v":67},{"p":"d","r":-69,"y":17,"v":65},{"p":"d","r":-69,"y":26,"v":62},{"p":"d","r":-69,"y":34,"v":56},{"p":"d","r":-69,"y":43,"v":44},{"p":"d","r":-69,"y":51,"v":29},{"p":"d","r":-69,"y":60,"v":14},
{"p":"d","r":-51,"y":-60,"v":15},{"p":"d","r":-51,"y":-51,"v":33},{"p":"d","r":-51,"y":-43,"v":49},{"p":"d","r":-51,"y":-34,"v":62},{"p":"d","r":-51,"y":-26,"v":69},{"p":"d","r":-51,"y":-17,"v":73},{"p":"d","r":-51,"y":-9,"v":75},{"p":"d","r":-51,"y":0,"v":76},{"p":"d","r":-51,"y":9,"v":75},{"p":"d","r":-51,"y":17,"v":73},{"p":"d","r":-51,"y":26,"v":69},{"p":"d","r":-51,"y":34,"v":62},{"p":"d","r":-51,"y":43,"v":49},{"p":"d","r":-51,"y":51,"v":33},{"p":"d","r":-51,"y":60,"v":15},
{"p":"d","r":-34,"y":-60,"v":14},{"p":"d","r":-34,"y":-51,"v":31},{"p":"d","r":-34,"y":-43,"v":46},{"p":"d","r":-34,"y":-34,"v":59},{"p":"d","r":-34,"y":-26,"v":66},{"p":"d","r":-34,"y":-17,"v":69},{"p":"d","r":-34,"y":-9,"v":71},{"p":"d","r":-34,"y":0,"v":72},{"p":"d","r":-34,"y":9,"v":71},{"p":"d","r":-34,"y":17,"v":69},{"p":"d","r":-34,"y":26,"v":66},{"p":"d","r":-34,"y":34,"v":59},{"p":"d","r":-34,"y":43,"v":46},{"p":"d","r":-34,"y":51,"v":31},{"p":"d","r":-34,"y":60,"v":14},
{"p":"d","r":-17,"y":-60,"v":13},{"p":"d","r":-17,"y":-51,"v":28},{"p":"d","r":-17,"y":-43,"v":42},{"p":"d","r":-17,"y":-34,"v":53},{"p":"d","r":-17,"y":-26,"v":59},{"p":"d","r":-17,"y":-17,"v":62},{"p":"d","r":-17,"y":-9,"v":64},{"p":"d","r":-17,"y":0,"v":65},{"p":"d","r":-17,"y":9,"v":64},{"p":"d","r":-17,"y":17,"v":62},{"p":"d","r":-17,"y":26,"v":59},{"p":"d","r":-17,"y":34,"v":53},{"p":"d","r":-17,"y":43,"v":42},{"p":"d","r":-17,"y":51,"v":28},{"p":"d","r":-17,"y":60,"v":13},
{"p":"d","r":0,"y":-60,"v":12},{"p":"d","r":0,"y":-51,"v":27},{"p":"d","r":0,"y":-43,"v":40},{"p":"d","r":0,"y":-34,"v":51},{"p":"d","r":0,"y":-26,"v":56},{"p":"d","r":0,"y":-17,"v":60},{"p":"d","r":0,"y":-9,"v":61},{"p":"d","r":0,"y":0,"v":62},{"p":"d","r":0,"y":9,"v":61},{"p":"d","r":0,"y":17,"v":60},{"p":"d","r":0,"y":26,"v":56},{"p":"d","r":0,"y":34,"v":51},{"p":"d","r":0,"y":43,"v":40},{"p":"d","r":0,"y":51,"v":27},{"p":"d","r":0,"y":60,"v":12},
{"p":"d","r":17,"y":-60,"v":13},{"p":"d","r":17,"y":-51,"v":28},{"p":"d","r":17,"y":-43,"v":42},{"p":"d","r":17,"y":-34,"v":54},{"p":"d","r":17,"y":-26,"v":60},{"p":"d","r":17,"y":-17,"v":63},{"p":"d","r":17,"y":-9,"v":65},{"p":"d","r":17,"y":0,"v":66},{"p":"d","r":17,"y":9,"v":65},{"p":"d","r":17,"y":17,"v":63},{"p":"d","r":17,"y":26,"v":60},{"p":"d","r":17,"y":34,"v":54},{"p":"d","r":17,"y":43,"v":42},{"p":"d","r":17,"y":51,"v":28},{"p":"d","r":17,"y":60,"v":13},
{"p":"d","r":34,"y":-60,"v":15},{"p":"d","r":34,"y":-51,"v":32},{"p":"d","r":34,"y":-43,"v":47},{"p":"d","r":34,"y":-34,"v":61},{"p":"d","r":34,"y":-26,"v":67},{"p":"d","r":34,"y":-17,"v":71},{"p":"d","r":34,"y":-9,"v":73},{"p":"d","r":34,"y":0,"v":74},{"p":"d","r":34,"y":9,"v":73},{"p":"d","r":34,"y":17,"v":71},{"p":"d","r":34,"y":26,"v":67},{"p":"d","r":34,"y":34,"v":61},{"p":"d","r":34,"y":43,"v":47},{"p":"d","r":34,"y":51,"v":32},{"p":"d","r":34,"y":60,"v":15},
{"p":"d","r":51,"y":-60,"v":14},{"p":"d","r":51,"y":-51,"v":30},{"p":"d","r":51,"y":-43,"v":45},{"p":"d","r":51,"y":-34,"v":57},{"p":"d","r":51,"y":-26,"v":64},{"p":"d","r":51,"y":-17,"v":67},{"p":"d","r":51,"y":-9,"v":69},{"p":"d","r":51,"y":0,"v":70},{"p":"d","r":51,"y":9,"v":69},{"p":"d","r":51,"y":17,"v":67},{"p":"d","r":51,"y":26,"v":64},{"p":"d","r":51,"y":34,"v":57},{"p":"d","r":51,"y":43,"v":45},{"p":"d","r":51,"y":51,"v":30},{"p":"d","r":51,"y":60,"v":14},
{"p":"d","r":69,"y":-60,"v":13},{"p":"d","r":69,"y":-51,"v":28},{"p":"d","r":69,"y":-43,"v":41},{"p":"d","r":69,"y":-34,"v":52},{"p":"d","r":69,"y":-26,"v":58},{"p":"d","r":69,"y":-17,"v":61},{"p":"d","r":69,"y":-9,"v":63},{"p":"d","r":69,"y":0,"v":64},{"p":"d","r":69,"y":9,"v":63},{"p":"d","r":69,"y":17,"v":61},{"p":"d","r":69,"y":26,"v":58},{"p":"d","r":69,"y":34,"v":52},{"p":"d","r":69,"y":43,"v":41},{"p":"d","r":69,"y":51,"v":28},{"p":"d","r":69,"y":60,"v":13},
{"p":"d","r":86,"y":-60,"v":12},{"p":"d","r":86,"y":-51,"v":27},{"p":"d","r":86,"y":-43,"v":40},{"p":"d","r":86,"y":-34,"v":51},{"p":"d","r":86,"y":-26,"v":56},{"p":"d","r":86,"y":-17,"v":60},{"p":"d","r":86,"y":-9,"v":61},{"p":"d","r":86,"y":0,"v":62},{"p":"d","r":86,"y":9,"v":61},{"p":"d","r":86,"y":17,"v":60},{"p":"d","r":86,"y":26,"v":56},{"p":"d","r":86,"y":34,"v":51},{"p":"d","r":86,"y":43,"v":40},{"p":"d","r":86,"y":51,"v":27},{"p":"d","r":86,"y":60,"v":12},
{"p":"d","r":103,"y":-60,"v":13},{"p":"d","r":103,"y":-51,"v":28},{"p":"d","r":103,"y":-43,"v":42},{"p":"d","r":103,"y":-34,"v":54},{"p":"d","r":103,"y":-26,"v":60},{"p":"d","r":103,"y":-17,"v":63},{"p":"d","r":103,"y":-9,"v":65},{"p":"d","r":103,"y":0,"v":66},{"p":"d","r":103,"y":9,"v":65},{"p":"d","r":103,"y":17,"v":63},{"p":"d","r":103,"y":26,"v":60},{"p":"d","r":103,"y":34,"v":54},{"p":"d","r":103,"y":43,"v":42},{"p":"d","r":103,"y":51,"v":28},{"p":"d","r":103,"y":60,"v":13},
{"p":"d","r":120,"y":-60,"v":15},{"p":"d","r":120,"y":-51,"v":32},{"p":"d","r":120,"y":-43,"v":47},{"p":"d","r":120,"y":-34,"v":61},{"p":"d","r":120,"y":-26,"v":67},{"p":"d","r":120,"y":-17,"v":71},{"p":"d","r":120,"y":-9,"v":73},{"p":"d","r":120,"y":0,"v":74},{"p":"d","r":120,"y":9,"v":73},{"p":"d","r":120,"y":17,"v":71},{"p":"d","r":120,"y":26,"v":67},{"p":"d","r":120,"y":34,"v":61},{"p":"d","r":120,"y":43,"v":47},{"p":"d","r":120,"y":51,"v":32},{"p":"d","r":120,"y":60,"v":15},
{"p":"d","r":137,"y":-60,"v":15},{"p":"d","r":137,"y":-51,"v":31},{"p":"d","r":137,"y":-43,"v":47},{"p":"d","r":137,"y":-34,"v":60},{"p":"d","r":137,"y":-26,"v":66},{"p":"d","r":137,"y":-17,"v":70},{"p":"d","r":137,"y":-9,"v":72},{"p":"d","r":137,"y":0,"v":73},{"p":"d","r":137,"y":9,"v":72},{"p":"d","r":137,"y":17,"v":70},{"p":"d","r":137,"y":26,"v":66},{"p":"d","r":137,"y":34,"v":60},{"p":"d","r":137,"y":43,"v":47},{"p":"d","r":137,"y":51,"v":31},{"p":"d","r":137,"y":60,"v":15},
{"p":"d","r":154,"y":-60,"v":13},{"p":"d","r":154,"y":-51,"v":29},{"p":"d","r":154,"y":-43,"v":43},{"p":"d","r":154,"y":-34,"v":55},{"p":"d","r":154,"y":-26,"v":61},{"p":"d","r":154,"y":-17,"v":64},{"p":"d","r":154,"y":-9,"v":66},{"p":"d","r":154,"y":0,"v":67},{"p":"d","r":154,"y":9,"v":66},{"p":"d","r":154,"y":17,"v":64},{"p":"d","r":154,"y":26,"v":61},{"p":"d","r":154,"y":34,"v":55},{"p":"d","r":154,"y":43,"v":43},{"p":"d","r":154,"y":51,"v":29},{"p":"d","r":154,"y":60,"v":13},
{"p":"d","r":171,"y":-60,"v":12},{"p":"d","r":171,"y":-51,"v":27},{"p":"d","r":171,"y":-43,"v":40},{"p":"d","r":171,"y":-34,"v":51},{"p":"d","r":171,"y":-26,"v":56},{"p":"d","r":171,"y":-17,"v":60},{"p":"d","r":171,"y":-9,"v":61},{"p":"d","r":171,"y":0,"v":62},{"p":"d","r":171,"y":9,"v":61},{"p":"d","r":171,"y":17,"v":60},{"p":"d","r":171,"y":26,"v":56},{"p":"d","r":171,"y":34,"v":51},{"p":"d","r":171,"y":43,"v":40},{"p":"d","r":171,"y":51,"v":27},{"p":"d","r":171,"y":60,"v":12},
{"p":"f","r":-171,"y":-43,"v":4},{"p":"f","r":-171,"y":-34,"v":6},{"p":"f","r":-171,"y":-26,"v":8},{"p":"f","r":-171,"y":-17,"v":9},{"p":"f","r":-171,"y":-9,"v":10},{"p":"f","r":-171,"y":0,"v":10},{"p":"f","r":-171,"y":9,"v":10},{"p":"f","r":-171,"y":17,"v":9},{"p":"f","r":-171,"y":26,"v":8},{"p":"f","r":-171,"y":34,"v":6},{"p":"f","r":-171,"y":43,"v":4},
{"p":"f","r":-154,"y":-43,"v":5},{"p":"f","r":-154,"y":-34,"v":8},{"p":"f","r":-154,"y":-26,"v":11},{"p":"f","r":-154,"y":-17,"v":13},{"p":"f","r":-154,"y":-9,"v":14},{"p":"f","r":-154,"y":0,"v":14},{"p":"f","r":-154,"y":9,"v":14},{"p":"f","r":-154,"y":17,"v":13},{"p":"f","r":-154,"y":26,"v":11},{"p":"f","r":-154,"y":34,"v":8},{"p":"f","r":-154,"y":43,"v":5},
{"p":"f","r":-137,"y":-51,"v":4},{"p":"f","r":-137,"y":-43,"v":7},{"p":"f","r":-137,"y":-34,"v":12},{"p":"f","r":-137,"y":-26,"v":16},{"p":"f","r":-137,"y":-17,"v":18},{"p":"f","r":-137,"y":-9,"v":20},{"p":"f","r":-137,"y":0,"v":20},{"p":"f","r":-137,"y":9,"v":20},{"p":"f","r":-137,"y":17,"v":18},{"p":"f","r":-137,"y":26,"v":16},{"p":"f","r":-137,"y":34,"v":12},{"p":"f","r":-137,"y":43,"v":7},{"p":"f","r":-137,"y":51,"v":4},
{"p":"f","r":-120,"y":-51,"v":4},{"p":"f","r":-120,"y":-43,"v":8},{"p":"f","r":-120,"y":-34,"v":13},{"p":"f","r":-120,"y":-26,"v":18},{"p":"f","r":-120,"y":-17,"v":20},{"p":"f","r":-120,"y":-9,"v":22},{"p":"f","r":-120,"y":0,"v":22},{"p":"f","r":-120,"y":9,"v":22},{"p":"f","r":-120,"y":17,"v":20},{"p":"f","r":-120,"y":26,"v":18},{"p":"f","r":-120,"y":34,"v":13},{"p":"f","r":-120,"y":43,"v":8},{"p":"f","r":-120,"y":51,"v":4},
{"p":"f","r":-103,"y":-51,"v":4},{"p":"f","r":-103,"y":-43,"v":7},{"p":"f","r":-103,"y":-34,"v":12},{"p":"f","r":-103,"y":-26,"v":17},{"p":"f","r":-103,"y":-17,"v":19},{"p":"f","r":-103,"y":-9,"v":21},{"p":"f","r":-103,"y":0,"v":21},{"p":"f","r":-103,"y":9,"v":21},{"p":"f","r":-103,"y":17,"v":19},{"p":"f","r":-103,"y":26,"v":17},{"p":"f","r":-103,"y":34,"v":12},{"p":"f","r":-103,"y":43,"v":7},{"p":"f","r":-103,"y":51,"v":4},
{"p":"f","r":-86,"y":-51,"v":4},{"p":"f","r":-86,"y":-43,"v":8},{"p":"f","r":-86,"y":-34,"v":13},{"p":"f","r":-86,"y":-26,"v":18},{"p":"f","r":-86,"y":-17,"v":20},{"p":"f","r":-86,"y":-9,"v":22},{"p":"f","r":-86,"y":0,"v":22},{"p":"f","r":-86,"y":9,"v":22},{"p":"f","r":-86,"y":17,"v":20},{"p":"f","r":-86,"y":26,"v":18},{"p":"f","r":-86,"y":34,"v":13},{"p":"f","r":-86,"y":43,"v":8},{"p":"f","r":-86,"y":51,"v":4},
{"p":"f","r":-69,"y":-60,"v":6},{"p":"f","r":-69,"y":-51,"v":12},{"p":"f","r":-69,"y":-43,"v":20},{"p":"f","r":-69,"y":-34,"v":29},{"p":"f","r":-69,"y":-26,"v":36},{"p":"f","r":-69,"y":-17,"v":40},{"p":"f","r":-69,"y":-9,"v":42},{"p":"f","r":-69,"y":0,"v":42},{"p":"f","r":-69,"y":9,"v":42},{"p":"f","r":-69,"y":17,"v":40},{"p":"f","r":-69,"y":26,"v":36},{"p":"f","r":-69,"y":34,"v":29},{"p":"f","r":-69,"y":43,"v":20},{"p":"f","r":-69,"y":51,"v":12},{"p":"f","r":-69,"y":60,"v":6},
{"p":"f","r":-51,"y":-69,"v":6},{"p":"f","r":-51,"y":-60,"v":14},{"p":"f","r":-51,"y":-51,"v":25},{"p":"f","r":-51,"y":-43,"v":38},{"p":"f","r":-51,"y":-34,"v":50},{"p":"f","r":-51,"y":-26,"v":57},{"p":"f","r":-51,"y":-17,"v":61},{"p":"f","r":-51,"y":-9,"v":62},{"p":"f","r":-51,"y":0,"v":62},{"p":"f","r":-51,"y":9,"v":62},{"p":"f","r":-51,"y":17,"v":61},{"p":"f","r":-51,"y":26,"v":57},{"p":"f","r":-51,"y":34,"v":50},{"p":"f","r":-51,"y":43,"v":38},{"p":"f","r":-51,"y":51,"v":25},{"p":"f","r":-51,"y":60,"v":14},{"p":"f","r":-51,"y":69,"v":6},
{"p":"f","r":-34,"y":-69,"v":7},{"p":"f","r":-34,"y":-60,"v":16},{"p":"f","r":-34,"y":-51,"v":30},{"p":"f","r":-34,"y":-43,"v":46},{"p":"f","r":-34,"y":-34,"v":59},{"p":"f","r":-34,"y":-26,"v":68},{"p":"f","r":-34,"y":-17,"v":73},{"p":"f","r":-34,"y":-9,"v":74},{"p":"f","r":-34,"y":0,"v":74},{"p":"f","r":-34,"y":9,"v":74},{"p":"f","r":-34,"y":17,"v":73},{"p":"f","r":-34,"y":26,"v":68},{"p":"f","r":-34,"y":34,"v":59},{"p":"f","r":-34,"y":43,"v":46},{"p":"f","r":-34,"y":51,"v":30},{"p":"f","r":-34,"y":60,"v":16},{"p":"f","r":-34,"y":69,"v":7},
{"p":"f","r":-17,"y":-69,"v":8},{"p":"f","r":-17,"y":-60,"v":17},{"p":"f","r":-17,"y":-51,"v":31},{"p":"f","r":-17,"y":-43,"v":48},{"p":"f","r":-17,"y":-34,"v":62},{"p":"f","r":-17,"y":-26,"v":72},{"p":"f","r":-17,"y":-17,"v":76},{"p":"f","r":-17,"y":-9,"v":78},{"p":"f","r":-17,"y":0,"v":78},{"p":"f","r":-17,"y":9,"v":78},{"p":"f","r":-17,"y":17,"v":76},{"p":"f","r":-17,"y":26,"v":72},{"p":"f","r":-17,"y":34,"v":62},{"p":"f","r":-17,"y":43,"v":48},{"p":"f","r":-17,"y":51,"v":31},{"p":"f","r":-17,"y":60,"v":17},{"p":"f","r":-17,"y":69,"v":8},
{"p":"f","r":0,"y":-69,"v":8},{"p":"f","r":0,"y":-60,"v":17},{"p":"f","r":0,"y":-51,"v":31},{"p":"f","r":0,"y":-43,"v":48},{"p":"f","r":0,"y":-34,"v":62},{"p":"f","r":0,"y":-26,"v":72},{"p":"f","r":0,"y":-17,"v":76},{"p":"f","r":0,"y":-9,"v":78},{"p":"f","r":0,"y":0,"v":78},{"p":"f","r":0,"y":9,"v":78},{"p":"f","r":0,"y":17,"v":76},{"p":"f","r":0,"y":26,"v":72},{"p":"f","r":0,"y":34,"v":62},{"p":"f","r":0,"y":43,"v":48},{"p":"f","r":0,"y":51,"v":31},{"p":"f","r":0,"y":60,"v":17},{"p":"f","r":0,"y":69,"v":8},
{"p":"f","r":17,"y":-69,"v":8},{"p":"f","r":17,"y":-60,"v":17},{"p":"f","r":17,"y":-51,"v":31},{"p":"f","r":17,"y":-43,"v":48},{"p":"f","r":17,"y":-34,"v":62},{"p":"f","r":17,"y":-26,"v":72},{"p":"f","r":17,"y":-17,"v":76},{"p":"f","r":17,"y":-9,"v":78},{"p":"f","r":17,"y":0,"v":78},{"p":"f","r":17,"y":9,"v":78},{"p":"f","r":17,"y":17,"v":76},{"p":"f","r":17,"y":26,"v":72},{"p":"f","r":17,"y":34,"v":62},{"p":"f","r":17,"y":43,"v":48},{"p":"f","r":17,"y":51,"v":31},{"p":"f","r":17,"y":60,"v":17},{"p":"f","r":17,"y":69,"v":8},
{"p":"f","r":34,"y":-69,"v":7},{"p":"f","r":34,"y":-60,"v":16},{"p":"f","r":34,"y":-51,"v":30},{"p":"f","r":34,"y":-43,"v":46},{"p":"f","r":34,"y":-34,"v":59},{"p":"f","r":34,"y":-26,"v":68},{"p":"f","r":34,"y":-17,"v":73},{"p":"f","r":34,"y":-9,"v":74},{"p":"f","r":34,"y":0,"v":74},{"p":"f","r":34,"y":9,"v":74},{"p":"f","r":34,"y":17,"v":73},{"p":"f","r":34,"y":26,"v":68},{"p":"f","r":34,"y":34,"v":59},{"p":"f","r":34,"y":43,"v":46},{"p":"f","r":34,"y":51,"v":30},{"p":"f","r":34,"y":60,"v":16},{"p":"f","r":34,"y":69,"v":7},
{"p":"f","r":51,"y":-69,"v":6},{"p":"f","r":51,"y":-60,"v":14},{"p":"f","r":51,"y":-51,"v":25},{"p":"f","r":51,"y":-43,"v":38},{"p":"f","r":51,"y":-34,"v":50},{"p":"f","r":51,"y":-26,"v":57},{"p":"f","r":51,"y":-17,"v":61},{"p":"f","r":51,"y":-9,"v":62},{"p":"f","r":51,"y":0,"v":62},{"p":"f","r":51,"y":9,"v":62},{"p":"f","r":51,"y":17,"v":61},{"p":"f","r":51,"y":26,"v":57},{"p":"f","r":51,"y":34,"v":50},{"p":"f","r":51,"y":43,"v":38},{"p":"f","r":51,"y":51,"v":25},{"p":"f","r":51,"y":60,"v":14},{"p":"f","r":51,"y":69,"v":6},
{"p":"f","r":69,"y":-60,"v":6},{"p":"f","r":69,"y":-51,"v":12},{"p":"f","r":69,"y":-43,"v":20},{"p":"f","r":69,"y":-34,"v":29},{"p":"f","r":69,"y":-26,"v":36},{"p":"f","r":69,"y":-17,"v":40},{"p":"f","r":69,"y":-9,"v":42},{"p":"f","r":69,"y":0,"v":42},{"p":"f","r":69,"y":9,"v":42},{"p":"f","r":69,"y":17,"v":40},{"p":"f","r":69,"y":26,"v":36},{"p":"f","r":69,"y":34,"v":29},{"p":"f","r":69,"y":43,"v":20},{"p":"f","r":69,"y":51,"v":12},{"p":"f","r":69,"y":60,"v":6},
{"p":"f","r":86,"y":-51,"v":4},{"p":"f","r":86,"y":-43,"v":8},{"p":"f","r":86,"y":-34,"v":14},{"p":"f","r":86,"y":-26,"v":19},{"p":"f","r":86,"y":-17,"v":22},{"p":"f","r":86,"y":-9,"v":24},{"p":"f","r":86,"y":0,"v":24},{"p":"f","r":86,"y":9,"v":24},{"p":"f","r":86,"y":17,"v":22},{"p":"f","r":86,"y":26,"v":19},{"p":"f","r":86,"y":34,"v":14},{"p":"f","r":86,"y":43,"v":8},{"p":"f","r":86,"y":51,"v":4},
{"p":"f","r":103,"y":-51,"v":4},{"p":"f","r":103,"y":-43,"v":7},{"p":"f","r":103,"y":-34,"v":12},{"p":"f","r":103,"y":-26,"v":17},{"p":"f","r":103,"y":-17,"v":19},{"p":"f","r":103,"y":-9,"v":21},{"p":"f","r":103,"y":0,"v":21},{"p":"f","r":103,"y":9,"v":21},{"p":"f","r":103,"y":17,"v":19},{"p":"f","r":103,"y":26,"v":17},{"p":"f","r":103,"y":34,"v":12},{"p":"f","r":103,"y":43,"v":7},{"p":"f","r":103,"y":51,"v":4},
{"p":"f","r":120,"y":-51,"v":4},{"p":"f","r":120,"y":-43,"v":8},{"p":"f","r":120,"y":-34,"v":13},{"p":"f","r":120,"y":-26,"v":18},{"p":"f","r":120,"y":-17,"v":21},{"p":"f","r":120,"y":-9,"v":23},{"p":"f","r":120,"y":0,"v":23},{"p":"f","r":120,"y":9,"v":23},{"p":"f","r":120,"y":17,"v":21},{"p":"f","r":120,"y":26,"v":18},{"p":"f","r":120,"y":34,"v":13},{"p":"f","r":120,"y":43,"v":8},{"p":"f","r":120,"y":51,"v":4},
{"p":"f","r":137,"y":-51,"v":4},{"p":"f","r":137,"y":-43,"v":8},{"p":"f","r":137,"y":-34,"v":13},{"p":"f","r":137,"y":-26,"v":18},{"p":"f","r":137,"y":-17,"v":20},{"p":"f","r":137,"y":-9,"v":22},{"p":"f","r":137,"y":0,"v":22},{"p":"f","r":137,"y":9,"v":22},{"p":"f","r":137,"y":17,"v":20},{"p":"f","r":137,"y":26,"v":18},{"p":"f","r":137,"y":34,"v":13},{"p":"f","r":137,"y":43,"v":8},{"p":"f","r":137,"y":51,"v":4},
{"p":"f","r":154,"y":-43,"v":6},{"p":"f","r":154,"y":-34,"v":9},{"p":"f","r":154,"y":-26,"v":13},{"p":"f","r":154,"y":-17,"v":15},{"p":"f","r":154,"y":-9,"v":16},{"p":"f","r":154,"y":0,"v":16},{"p":"f","r":154,"y":9,"v":16},{"p":"f","r":154,"y":17,"v":15},{"p":"f","r":154,"y":26,"v":13},{"p":"f","r":154,"y":34,"v":9},{"p":"f","r":154,"y":43,"v":6},
{"p":"f","r":171,"y":-43,"v":4},{"p":"f","r":171,"y":-34,"v":6},{"p":"f","r":171,"y":-26,"v":9},{"p":"f","r":171,"y":-17,"v":10},{"p":"f","r":171,"y":-9,"v":11},{"p":"f","r":171,"y":0,"v":11},{"p":"f","r":171,"y":9,"v":11},{"p":"f","r":171,"y":17,"v":10},{"p":"f","r":171,"y":26,"v":9},{"p":"f","r":171,"y":34,"v":6},{"p":"f","r":171,"y":43,"v":4},
{"p":"g","r":-171,"y":-51,"v":6},{"p":"g","r":-171,"y":-43,"v":10},{"p":"g","r":-171,"y":-34,"v":15},{"p":"g","r":-171,"y":-26,"v":20},{"p":"g","r":-171,"y":-17,"v":22},{"p":"g","r":-171,"y":-9,"v":24},{"p":"g","r":-171,"y":0,"v":24},{"p":"g","r":-171,"y":9,"v":24},{"p":"g","r":-171,"y":17,"v":22},{"p":"g","r":-171,"y":26,"v":20},{"p":"g","r":-171,"y":34,"v":15},{"p":"g","r":-171,"y":43,"v":10},{"p":"g","r":-171,"y":51,"v":6},
{"p":"g","r":-154,"y":-51,"v":7},{"p":"g","r":-154,"y":-43,"v":13},{"p":"g","r":-154,"y":-34,"v":19},{"p":"g","r":-154,"y":-26,"v":25},{"p":"g","r":-154,"y":-17,"v":28},{"p":"g","r":-154,"y":-9,"v":29},{"p":"g","r":-154,"y":0,"v":30},{"p":"g","r":-154,"y":9,"v":29},{"p":"g","r":-154,"y":17,"v":28},{"p":"g","r":-154,"y":26,"v":25},{"p":"g","r":-154,"y":34,"v":19},{"p":"g","r":-154,"y":43,"v":13},{"p":"g","r":-154,"y":51,"v":7},
{"p":"g","r":-137,"y":-60,"v":4},{"p":"g","r":-137,"y":-51,"v":8},{"p":"g","r":-137,"y":-43,"v":15},{"p":"g","r":-137,"y":-34,"v":23},{"p":"g","r":-137,"y":-26,"v":30},{"p":"g","r":-137,"y":-17,"v":33},{"p":"g","r":-137,"y":-9,"v":35},{"p":"g","r":-137,"y":0,"v":36},{"p":"g","r":-137,"y":9,"v":35},{"p":"g","r":-137,"y":17,"v":33},{"p":"g","r":-137,"y":26,"v":30},{"p":"g","r":-137,"y":34,"v":23},{"p":"g","r":-137,"y":43,"v":15},{"p":"g","r":-137,"y":51,"v":8},{"p":"g","r":-137,"y":60,"v":4},
{"p":"g","r":-120,"y":-60,"v":4},{"p":"g","r":-120,"y":-51,"v":10},{"p":"g","r":-120,"y":-43,"v":18},{"p":"g","r":-120,"y":-34,"v":27},{"p":"g","r":-120,"y":-26,"v":34},{"p":"g","r":-120,"y":-17,"v":39},{"p":"g","r":-120,"y":-9,"v":41},{"p":"g","r":-120,"y":0,"v":42},{"p":"g","r":-120,"y":9,"v":41},{"p":"g","r":-120,"y":17,"v":39},{"p":"g","r":-120,"y":26,"v":34},{"p":"g","r":-120,"y":34,"v":27},{"p":"g","r":-120,"y":43,"v":18},{"p":"g","r":-120,"y":51,"v":10},{"p":"g","r":-120,"y":60,"v":4},
{"p":"g","r":-103,"y":-60,"v":5},{"p":"g","r":-103,"y":-51,"v":11},{"p":"g","r":-103,"y":-43,"v":20},{"p":"g","r":-103,"y":-34,"v":31},{"p":"g","r":-103,"y":-26,"v":39},{"p":"g","r":-103,"y":-17,"v":45},{"p":"g","r":-103,"y":-9,"v":47},{"p":"g","r":-103,"y":0,"v":48},{"p":"g","r":-103,"y":9,"v":47},{"p":"g","r":-103,"y":17,"v":45},{"p":"g","r":-103,"y":26,"v":39},{"p":"g","r":-103,"y":34,"v":31},{"p":"g","r":-103,"y":43,"v":20},{"p":"g","r":-103,"y":51,"v":11},{"p":"g","r":-103,"y":60,"v":5},
{"p":"g","r":-86,"y":-69,"v":4},{"p":"g","r":-86,"y":-60,"v":10},{"p":"g","r":-86,"y":-51,"v":21},{"p":"g","r":-86,"y":-43,"v":34},{"p":"g","r":-86,"y":-34,"v":45},{"p":"g","r":-86,"y":-26,"v":52},{"p":"g","r":-86,"y":-17,"v":55},{"p":"g","r":-86,"y":-9,"v":56},{"p":"g","r":-86,"y":0,"v":56},{"p":"g","r":-86,"y":9,"v":56},{"p":"g","r":-86,"y":17,"v":55},{"p":"g","r":-86,"y":26,"v":52},{"p":"g","r":-86,"y":34,"v":45},{"p":"g","r":-86,"y":43,"v":34},{"p":"g","r":-86,"y":51,"v":21},{"p":"g","r":-86,"y":60,"v":10},{"p":"g","r":-86,"y":69,"v":4},
{"p":"g","r":-69,"y":-69,"v":4},{"p":"g","r":-69,"y":-60,"v":11},{"p":"g","r":-69,"y":-51,"v":23},{"p":"g","r":-69,"y":-43,"v":37},{"p":"g","r":-69,"y":-34,"v":50},{"p":"g","r":-69,"y":-26,"v":57},{"p":"g","r":-69,"y":-17,"v":61},{"p":"g","r":-69,"y":-9,"v":62},{"p":"g","r":-69,"y":0,"v":62},{"p":"g","r":-69,"y":9,"v":62},{"p":"g","r":-69,"y":17,"v":61},{"p":"g","r":-69,"y":26,"v":57},{"p":"g","r":-69,"y":34,"v":50},{"p":"g","r":-69,"y":43,"v":37},{"p":"g","r":-69,"y":51,"v":23},{"p":"g","r":-69,"y":60,"v":11},{"p":"g","r":-69,"y":69,"v":4},
{"p":"g","r":-51,"y":-69,"v":5},{"p":"g","r":-51,"y":-60,"v":12},{"p":"g","r":-51,"y":-51,"v":26},{"p":"g","r":-51,"y":-43,"v":42},{"p":"g","r":-51,"y":-34,"v":56},{"p":"g","r":-51,"y":-26,"v":64},{"p":"g","r":-51,"y":-17,"v":69},{"p":"g","r":-51,"y":-9,"v":70},{"p":"g","r":-51,"y":0,"v":70},{"p":"g","r":-51,"y":9,"v":70},{"p":"g","r":-51,"y":17,"v":69},{"p":"g","r":-51,"y":26,"v":64},{"p":"g","r":-51,"y":34,"v":56},{"p":"g","r":-51,"y":43,"v":42},{"p":"g","r":-51,"y":51,"v":26},{"p":"g","r":-51,"y":60,"v":12},{"p":"g","r":-51,"y":69,"v":5},
{"p":"g","r":-34,"y":-69,"v":5},{"p":"g","r":-34,"y":-60,"v":12},{"p":"g","r":-34,"y":-51,"v":27},{"p":"g","r":-34,"y":-43,"v":44},{"p":"g","r":-34,"y":-34,"v":58},{"p":"g","r":-34,"y":-26,"v":67},{"p":"g","r":-34,"y":-17,"v":72},{"p":"g","r":-34,"y":-9,"v":73},{"p":"g","r":-34,"y":0,"v":73},{"p":"g","r":-34,"y":9,"v":73},{"p":"g","r":-34,"y":17,"v":72},{"p":"g","r":-34,"y":26,"v":67},{"p":"g","r":-34,"y":34,"v":58},{"p":"g","r":-34,"y":43,"v":44},{"p":"g","r":-34,"y":51,"v":27},{"p":"g","r":-34,"y":60,"v":12},{"p":"g","r":-34,"y":69,"v":5},
{"p":"g","r":-17,"y":-69,"v":5},{"p":"g","r":-17,"y":-60,"v":12},{"p":"g","r":-17,"y":-51,"v":25},{"p":"g","r":-17,"y":-43,"v":41},{"p":"g","r":-17,"y":-34,"v":54},{"p":"g","r":-17,"y":-26,"v":63},{"p":"g","r":-17,"y":-17,"v":67},{"p":"g","r":-17,"y":-9,"v":68},{"p":"g","r":-17,"y":0,"v":68},{"p":"g","r":-17,"y":9,"v":68},{"p":"g","r":-17,"y":17,"v":67},{"p":"g","r":-17,"y":26,"v":63},{"p":"g","r":-17,"y":34,"v":54},{"p":"g","r":-17,"y":43,"v":41},{"p":"g","r":-17,"y":51,"v":25},{"p":"g","r":-17,"y":60,"v":12},{"p":"g","r":-17,"y":69,"v":5},
{"p":"g","r":0,"y":-69,"v":5},{"p":"g","r":0,"y":-60,"v":11},{"p":"g","r":0,"y":-51,"v":24},{"p":"g","r":0,"y":-43,"v":39},{"p":"g","r":0,"y":-34,"v":52},{"p":"g","r":0,"y":-26,"v":60},{"p":"g","r":0,"y":-17,"v":64},{"p":"g","r":0,"y":-9,"v":65},{"p":"g","r":0,"y":0,"v":65},{"p":"g","r":0,"y":9,"v":65},{"p":"g","r":0,"y":17,"v":64},{"p":"g","r":0,"y":26,"v":60},{"p":"g","r":0,"y":34,"v":52},{"p":"g","r":0,"y":43,"v":39},{"p":"g","r":0,"y":51,"v":24},{"p":"g","r":0,"y":60,"v":11},{"p":"g","r":0,"y":69,"v":5},
{"p":"g","r":17,"y":-69,"v":5},{"p":"g","r":17,"y":-60,"v":12},{"p":"g","r":17,"y":-51,"v":25},{"p":"g","r":17,"y":-43,"v":41},{"p":"g","r":17,"y":-34,"v":54},{"p":"g","r":17,"y":-26,"v":63},{"p":"g","r":17,"y":-17,"v":67},{"p":"g","r":17,"y":-9,"v":68},{"p":"g","r":17,"y":0,"v":68},{"p":"g","r":17,"y":9,"v":68},{"p":"g","r":17,"y":17,"v":67},{"p":"g","r":17,"y":26,"v":63},{"p":"g","r":17,"y":34,"v":54},{"p":"g","r":17,"y":43,"v":41},{"p":"g","r":17,"y":51,"v":25},{"p":"g","r":17,"y":60,"v":12},{"p":"g","r":17,"y":69,"v":5},
{"p":"g","r":34,"y":-69,"v":5},{"p":"g","r":34,"y":-60,"v":12},{"p":"g","r":34,"y":-51,"v":27},{"p":"g","r":34,"y":-43,"v":43},{"p":"g","r":34,"y":-34,"v":58},{"p":"g","r":34,"y":-26,"v":66},{"p":"g","r":34,"y":-17,"v":71},{"p":"g","r":34,"y":-9,"v":72},{"p":"g","r":34,"y":0,"v":72},{"p":"g","r":34,"y":9,"v":72},{"p":"g","r":34,"y":17,"v":71},{"p":"g","r":34,"y":26,"v":66},{"p":"g","r":34,"y":34,"v":58},{"p":"g","r":34,"y":43,"v":43},{"p":"g","r":34,"y":51,"v":27},{"p":"g","r":34,"y":60,"v":12},{"p":"g","r":34,"y":69,"v":5},
{"p":"g","r":51,"y":-69,"v":5},{"p":"g","r":51,"y":-60,"v":12},{"p":"g","r":51,"y":-51,"v":26},{"p":"g","r":51,"y":-43,"v":42},{"p":"g","r":51,"y":-34,"v":56},{"p":"g","r":51,"y":-26,"v":64},{"p":"g","r":51,"y":-17,"v":69},{"p":"g","r":51,"y":-9,"v":70},{"p":"g","r":51,"y":0,"v":70},{"p":"g","r":51,"y":9,"v":70},{"p":"g","r":51,"y":17,"v":69},{"p":"g","r":51,"y":26,"v":64},{"p":"g","r":51,"y":34,"v":56},{"p":"g","r":51,"y":43,"v":42},{"p":"g","r":51,"y":51,"v":26},{"p":"g","r":51,"y":60,"v":12},{"p":"g","r":51,"y":69,"v":5},
{"p":"g","r":69,"y":-69,"v":4},{"p":"g","r":69,"y":-60,"v":11},{"p":"g","r":69,"y":-51,"v":23},{"p":"g","r":69,"y":-43,"v":37},{"p":"g","r":69,"y":-34,"v":50},{"p":"g","r":69,"y":-26,"v":57},{"p":"g","r":69,"y":-17,"v":61},{"p":"g","r":69,"y":-9,"v":62},{"p":"g","r":69,"y":0,"v":62},{"p":"g","r":69,"y":9,"v":62},{"p":"g","r":69,"y":17,"v":61},{"p":"g","r":69,"y":26,"v":57},{"p":"g","r":69,"y":34,"v":50},{"p":"g","r":69,"y":43,"v":37},{"p":"g","r":69,"y":51,"v":23},{"p":"g","r":69,"y":60,"v":11},{"p":"g","r":69,"y":69,"v":4},
{"p":"g","r":86,"y":-69,"v":4},{"p":"g","r":86,"y":-60,"v":9},{"p":"g","r":86,"y":-51,"v":20},{"p":"g","r":86,"y":-43,"v":33},{"p":"g","r":86,"y":-34,"v":44},{"p":"g","r":86,"y":-26,"v":51},{"p":"g","r":86,"y":-17,"v":54},{"p":"g","r":86,"y":-9,"v":55},{"p":"g","r":86,"y":0,"v":55},{"p":"g","r":86,"y":9,"v":55},{"p":"g","r":86,"y":17,"v":54},{"p":"g","r":86,"y":26,"v":51},{"p":"g","r":86,"y":34,"v":44},{"p":"g","r":86,"y":43,"v":33},{"p":"g","r":86,"y":51,"v":20},{"p":"g","r":86,"y":60,"v":9},{"p":"g","r":86,"y":69,"v":4},
{"p":"g","r":103,"y":-60,"v":5},{"p":"g","r":103,"y":-51,"v":11},{"p":"g","r":103,"y":-43,"v":20},{"p":"g","r":103,"y":-34,"v":30},{"p":"g","r":103,"y":-26,"v":39},{"p":"g","r":103,"y":-17,"v":44},{"p":"g","r":103,"y":-9,"v":46},{"p":"g","r":103,"y":0,"v":47},{"p":"g","r":103,"y":9,"v":46},{"p":"g","r":103,"y":17,"v":44},{"p":"g","r":103,"y":26,"v":39},{"p":"g","r":103,"y":34,"v":30},{"p":"g","r":103,"y":43,"v":20},{"p":"g","r":103,"y":51,"v":11},{"p":"g","r":103,"y":60,"v":5},
{"p":"g","r":120,"y":-60,"v":4},{"p":"g","r":120,"y":-51,"v":9},{"p":"g","r":120,"y":-43,"v":17},{"p":"g","r":120,"y":-34,"v":26},{"p":"g","r":120,"y":-26,"v":33},{"p":"g","r":120,"y":-17,"v":37},{"p":"g","r":120,"y":-9,"v":39},{"p":"g","r":120,"y":0,"v":40},{"p":"g","r":120,"y":9,"v":39},{"p":"g","r":120,"y":17,"v":37},{"p":"g","r":120,"y":26,"v":33},{"p":"g","r":120,"y":34,"v":26},{"p":"g","r":120,"y":43,"v":17},{"p":"g","r":120,"y":51,"v":9},{"p":"g","r":120,"y":60,"v":4},
{"p":"g","r":137,"y":-51,"v":8},{"p":"g","r":137,"y":-43,"v":14},{"p":"g","r":137,"y":-34,"v":22},{"p":"g","r":137,"y":-26,"v":28},{"p":"g","r":137,"y":-17,"v":32},{"p":"g","r":137,"y":-9,"v":33},{"p":"g","r":137,"y":0,"v":34},{"p":"g","r":137,"y":9,"v":33},{"p":"g","r":137,"y":17,"v":32},{"p":"g","r":137,"y":26,"v":28},{"p":"g","r":137,"y":34,"v":22},{"p":"g","r":137,"y":43,"v":14},{"p":"g","r":137,"y":51,"v":8},
{"p":"g","r":154,"y":-51,"v":6},{"p":"g","r":154,"y":-43,"v":12},{"p":"g","r":154,"y":-34,"v":18},{"p":"g","r":154,"y":-26,"v":23},{"p":"g","r":154,"y":-17,"v":26},{"p":"g","r":154,"y":-9,"v":27},{"p":"g","r":154,"y":0,"v":28},{"p":"g","r":154,"y":9,"v":27},{"p":"g","r":154,"y":17,"v":26},{"p":"g","r":154,"y":26,"v":23},{"p":"g","r":154,"y":34,"v":18},{"p":"g","r":154,"y":43,"v":12},{"p":"g","r":154,"y":51,"v":6},
{"p":"g","r":171,"y":-51,"v":5},{"p":"g","r":171,"y":-43,"v":9},{"p":"g","r":171,"y":-34,"v":14},{"p":"g","r":171,"y":-26,"v":18},{"p":"g","r":171,"y":-17,"v":20},{"p":"g","r":171,"y":-9,"v":22},{"p":"g","r":171,"y":0,"v":22},{"p":"g","r":171,"y":9,"v":22},{"p":"g","r":171,"y":17,"v":20},{"p":"g","r":171,"y":26,"v":18},{"p":"g","r":171,"y":34,"v":14},{"p":"g","r":171,"y":43,"v":9},{"p":"g","r":171,"y":51,"v":5},
{"p":"h","r":-171,"y":-60,"v":4},{"p":"h","r":-171,"y":-51,"v":9},{"p":"h","r":-171,"y":-43,"v":16},{"p":"h","r":-171,"y":-34,"v":21},{"p":"h","r":-171,"y":-26,"v":25},{"p":"h","r":-171,"y":-17,"v":27},{"p":"h","r":-171,"y":-9,"v":28},{"p":"h","r":-171,"y":0,"v":28},{"p":"h","r":-171,"y":9,"v":28},{"p":"h","r":-171,"y":17,"v":27},{"p":"h","r":-171,"y":26,"v":25},{"p":"h","r":-171,"y":34,"v":21},{"p":"h","r":-171,"y":43,"v":16},{"p":"h","r":-171,"y":51,"v":9},{"p":"h","r":-171,"y":60,"v":4},
{"p":"h","r":-154,"y":-60,"v":4},{"p":"h","r":-154,"y":-51,"v":11},{"p":"h","r":-154,"y":-43,"v":18},{"p":"h","r":-154,"y":-34,"v":24},{"p":"h","r":-154,"y":-26,"v":28},{"p":"h","r":-154,"y":-17,"v":30},{"p":"h","r":-154,"y":-9,"v":32},{"p":"h","r":-154,"y":0,"v":32},{"p":"h","r":-154,"y":9,"v":32},{"p":"h","r":-154,"y":17,"v":30},{"p":"h","r":-154,"y":26,"v":28},{"p":"h","r":-154,"y":34,"v":24},{"p":"h","r":-154,"y":43,"v":18},{"p":"h","r":-154,"y":51,"v":11},{"p":"h","r":-154,"y":60,"v":4},
{"p":"h","r":-137,"y":-60,"v":5},{"p":"h","r":-137,"y":-51,"v":12},{"p":"h","r":-137,"y":-43,"v":20},{"p":"h","r":-137,"y":-34,"v":26},{"p":"h","r":-137,"y":-26,"v":31},{"p":"h","r":-137,"y":-17,"v":33},{"p":"h","r":-137,"y":-9,"v":35},{"p":"h","r":-137,"y":0,"v":35},{"p":"h","r":-137,"y":9,"v":35},{"p":"h","r":-137,"y":17,"v":33},{"p":"h","r":-137,"y":26,"v":31},{"p":"h","r":-137,"y":34,"v":26},{"p":"h","r":-137,"y":43,"v":20},{"p":"h","r":-137,"y":51,"v":12},{"p":"h","r":-137,"y":60,"v":5},
{"p":"h","r":-120,"y":-60,"v":5},{"p":"h","r":-120,"y":-51,"v":12},{"p":"h","r":-120,"y":-43,"v":20},{"p":"h","r":-120,"y":-34,"v":26},{"p":"h","r":-120,"y":-26,"v":31},{"p":"h","r":-120,"y":-17,"v":33},{"p":"h","r":-120,"y":-9,"v":35},{"p":"h","r":-120,"y":0,"v":35},{"p":"h","r":-120,"y":9,"v":35},{"p":"h","r":-120,"y":17,"v":33},{"p":"h","r":-120,"y":26,"v":31},{"p":"h","r":-120,"y":34,"v":26},{"p":"h","r":-120,"y":43,"v":20},{"p":"h","r":-120,"y":51,"v":12},{"p":"h","r":-120,"y":60,"v":5},
{"p":"h","r":-103,"y":-60,"v":4},{"p":"h","r":-103,"y":-51,"v":10},{"p":"h","r":-103,"y":-43,"v":17},{"p":"h","r":-103,"y":-34,"v":23},{"p":"h","r":-103,"y":-26,"v":26},{"p":"h","r":-103,"y":-17,"v":29},{"p":"h","r":-103,"y":-9,"v":30},{"p":"h","r":-103,"y":0,"v":30},{"p":"h","r":-103,"y":9,"v":30},{"p":"h","r":-103,"y":17,"v":29},{"p":"h","r":-103,"y":26,"v":26},{"p":"h","r":-103,"y":34,"v":23},{"p":"h","r":-103,"y":43,"v":17},{"p":"h","r":-103,"y":51,"v":10},{"p":"h","r":-103,"y":60,"v":4},
{"p":"h","r":-86,"y":-60,"v":4},{"p":"h","r":-86,"y":-51,"v":9},{"p":"h","r":-86,"y":-43,"v":15},{"p":"h","r":-86,"y":-34,"v":20},{"p":"h","r":-86,"y":-26,"v":24},{"p":"h","r":-86,"y":-17,"v":26},{"p":"h","r":-86,"y":-9,"v":27},{"p":"h","r":-86,"y":0,"v":27},{"p":"h","r":-86,"y":9,"v":27},{"p":"h","r":-86,"y":17,"v":26},{"p":"h","r":-86,"y":26,"v":24},{"p":"h","r":-86,"y":34,"v":20},{"p":"h","r":-86,"y":43,"v":15},{"p":"h","r":-86,"y":51,"v":9},{"p":"h","r":-86,"y":60,"v":4},
{"p":"h","r":-69,"y":-60,"v":4},{"p":"h","r":-69,"y":-51,"v":10},{"p":"h","r":-69,"y":-43,"v":16},{"p":"h","r":-69,"y":-34,"v":22},{"p":"h","r":-69,"y":-26,"v":26},{"p":"h","r":-69,"y":-17,"v":28},{"p":"h","r":-69,"y":-9,"v":29},{"p":"h","r":-69,"y":0,"v":29},{"p":"h","r":-69,"y":9,"v":29},{"p":"h","r":-69,"y":17,"v":28},{"p":"h","r":-69,"y":26,"v":26},{"p":"h","r":-69,"y":34,"v":22},{"p":"h","r":-69,"y":43,"v":16},{"p":"h","r":-69,"y":51,"v":10},{"p":"h","r":-69,"y":60,"v":4},
{"p":"h","r":-51,"y":-60,"v":4},{"p":"h","r":-51,"y":-51,"v":10},{"p":"h","r":-51,"y":-43,"v":17},{"p":"h","r":-51,"y":-34,"v":23},{"p":"h","r":-51,"y":-26,"v":26},{"p":"h","r":-51,"y":-17,"v":29},{"p":"h","r":-51,"y":-9,"v":30},{"p":"h","r":-51,"y":0,"v":30},{"p":"h","r":-51,"y":9,"v":30},{"p":"h","r":-51,"y":17,"v":29},{"p":"h","r":-51,"y":26,"v":26},{"p":"h","r":-51,"y":34,"v":23},{"p":"h","r":-51,"y":43,"v":17},{"p":"h","r":-51,"y":51,"v":10},{"p":"h","r":-51,"y":60,"v":4},
{"p":"h","r":-34,"y":-60,"v":4},{"p":"h","r":-34,"y":-51,"v":9},{"p":"h","r":-34,"y":-43,"v":16},{"p":"h","r":-34,"y":-34,"v":21},{"p":"h","r":-34,"y":-26,"v":25},{"p":"h","r":-34,"y":-17,"v":27},{"p":"h","r":-34,"y":-9,"v":28},{"p":"h","r":-34,"y":0,"v":28},{"p":"h","r":-34,"y":9,"v":28},{"p":"h","r":-34,"y":17,"v":27},{"p":"h","r":-34,"y":26,"v":25},{"p":"h","r":-34,"y":34,"v":21},{"p":"h","r":-34,"y":43,"v":16},{"p":"h","r":-34,"y":51,"v":9},{"p":"h","r":-34,"y":60,"v":4},
{"p":"h","r":-17,"y":-60,"v":4},{"p":"h","r":-17,"y":-51,"v":9},{"p":"h","r":-17,"y":-43,"v":15},{"p":"h","r":-17,"y":-34,"v":20},{"p":"h","r":-17,"y":-26,"v":24},{"p":"h","r":-17,"y":-17,"v":26},{"p":"h","r":-17,"y":-9,"v":27},{"p":"h","r":-17,"y":0,"v":27},{"p":"h","r":-17,"y":9,"v":27},{"p":"h","r":-17,"y":17,"v":26},{"p":"h","r":-17,"y":26,"v":24},{"p":"h","r":-17,"y":34,"v":20},{"p":"h","r":-17,"y":43,"v":15},{"p":"h","r":-17,"y":51,"v":9},{"p":"h","r":-17,"y":60,"v":4},
{"p":"h","r":0,"y":-60,"v":4},{"p":"h","r":0,"y":-51,"v":9},{"p":"h","r":0,"y":-43,"v":16},{"p":"h","r":0,"y":-34,"v":21},{"p":"h","r":0,"y":-26,"v":25},{"p":"h","r":0,"y":-17,"v":27},{"p":"h","r":0,"y":-9,"v":28},{"p":"h","r":0,"y":0,"v":28},{"p":"h","r":0,"y":9,"v":28},{"p":"h","r":0,"y":17,"v":27},{"p":"h","r":0,"y":26,"v":25},{"p":"h","r":0,"y":34,"v":21},{"p":"h","r":0,"y":43,"v":16},{"p":"h","r":0,"y":51,"v":9},{"p":"h","r":0,"y":60,"v":4},
{"p":"h","r":17,"y":-60,"v":4},{"p":"h","r":17,"y":-51,"v":11},{"p":"h","r":17,"y":-43,"v":17},{"p":"h","r":17,"y":-34,"v":23},{"p":"h","r":17,"y":-26,"v":27},{"p":"h","r":17,"y":-17,"v":29},{"p":"h","r":17,"y":-9,"v":31},{"p":"h","r":17,"y":0,"v":31},{"p":"h","r":17,"y":9,"v":31},{"p":"h","r":17,"y":17,"v":29},{"p":"h","r":17,"y":26,"v":27},{"p":"h","r":17,"y":34,"v":23},{"p":"h","r":17,"y":43,"v":17},{"p":"h","r":17,"y":51,"v":11},{"p":"h","r":17,"y":60,"v":4},
{"p":"h","r":34,"y":-60,"v":4},{"p":"h","r":34,"y":-51,"v":11},{"p":"h","r":34,"y":-43,"v":18},{"p":"h","r":34,"y":-34,"v":24},{"p":"h","r":34,"y":-26,"v":28},{"p":"h","r":34,"y":-17,"v":30},{"p":"h","r":34,"y":-9,"v":32},{"p":"h","r":34,"y":0,"v":32},{"p":"h","r":34,"y":9,"v":32},{"p":"h","r":34,"y":17,"v":30},{"p":"h","r":34,"y":26,"v":28},{"p":"h","r":34,"y":34,"v":24},{"p":"h","r":34,"y":43,"v":18},{"p":"h","r":34,"y":51,"v":11},{"p":"h","r":34,"y":60,"v":4},
{"p":"h","r":51,"y":-60,"v":4},{"p":"h","r":51,"y":-51,"v":11},{"p":"h","r":51,"y":-43,"v":17},{"p":"h","r":51,"y":-34,"v":23},{"p":"h","r":51,"y":-26,"v":27},{"p":"h","r":51,"y":-17,"v":29},{"p":"h","r":51,"y":-9,"v":31},{"p":"h","r":51,"y":0,"v":31},{"p":"h","r":51,"y":9,"v":31},{"p":"h","r":51,"y":17,"v":29},{"p":"h","r":51,"y":26,"v":27},{"p":"h","r":51,"y":34,"v":23},{"p":"h","r":51,"y":43,"v":17},{"p":"h","r":51,"y":51,"v":11},{"p":"h","r":51,"y":60,"v":4},
{"p":"h","r":69,"y":-60,"v":4},{"p":"h","r":69,"y":-51,"v":9},{"p":"h","r":69,"y":-43,"v":16},{"p":"h","r":69,"y":-34,"v":21},{"p":"h","r":69,"y":-26,"v":25},{"p":"h","r":69,"y":-17,"v":27},{"p":"h","r":69,"y":-9,"v":28},{"p":"h","r":69,"y":0,"v":28},{"p":"h","r":69,"y":9,"v":28},{"p":"h","r":69,"y":17,"v":27},{"p":"h","r":69,"y":26,"v":25},{"p":"h","r":69,"y":34,"v":21},{"p":"h","r":69,"y":43,"v":16},{"p":"h","r":69,"y":51,"v":9},{"p":"h","r":69,"y":60,"v":4},
{"p":"h","r":86,"y":-60,"v":4},{"p":"h","r":86,"y":-51,"v":9},{"p":"h","r":86,"y":-43,"v":15},{"p":"h","r":86,"y":-34,"v":20},{"p":"h","r":86,"y":-26,"v":24},{"p":"h","r":86,"y":-17,"v":26},{"p":"h","r":86,"y":-9,"v":27},{"p":"h","r":86,"y":0,"v":27},{"p":"h","r":86,"y":9,"v":27},{"p":"h","r":86,"y":17,"v":26},{"p":"h","r":86,"y":26,"v":24},{"p":"h","r":86,"y":34,"v":20},{"p":"h","r":86,"y":43,"v":15},{"p":"h","r":86,"y":51,"v":9},{"p":"h","r":86,"y":60,"v":4},
{"p":"h","r":103,"y":-60,"v":4},{"p":"h","r":103,"y":-51,"v":10},{"p":"h","r":103,"y":-43,"v":16},{"p":"h","r":103,"y":-34,"v":22},{"p":"h","r":103,"y":-26,"v":26},{"p":"h","r":103,"y":-17,"v":28},{"p":"h","r":103,"y":-9,"v":29},{"p":"h","r":103,"y":0,"v":29},{"p":"h","r":103,"y":9,"v":29},{"p":"h","r":103,"y":17,"v":28},{"p":"h","r":103,"y":26,"v":26},{"p":"h","r":103,"y":34,"v":22},{"p":"h","r":103,"y":43,"v":16},{"p":"h","r":103,"y":51,"v":10},{"p":"h","r":103,"y":60,"v":4},
{"p":"h","r":120,"y":-60,"v":4},{"p":"h","r":120,"y":-51,"v":10},{"p":"h","r":120,"y":-43,"v":17},{"p":"h","r":120,"y":-34,"v":23},{"p":"h","r":120,"y":-26,"v":26},{"p":"h","r":120,"y":-17,"v":29},{"p":"h","r":120,"y":-9,"v":30},{"p":"h","r":120,"y":0,"v":30},{"p":"h","r":120,"y":9,"v":30},{"p":"h","r":120,"y":17,"v":29},{"p":"h","r":120,"y":26,"v":26},{"p":"h","r":120,"y":34,"v":23},{"p":"h","r":120,"y":43,"v":17},{"p":"h","r":120,"y":51,"v":10},{"p":"h","r":120,"y":60,"v":4},
{"p":"h","r":137,"y":-60,"v":4},{"p":"h","r":137,"y":-51,"v":9},{"p":"h","r":137,"y":-43,"v":16},{"p":"h","r":137,"y":-34,"v":21},{"p":"h","r":137,"y":-26,"v":25},{"p":"h","r":137,"y":-17,"v":27},{"p":"h","r":137,"y":-9,"v":28},{"p":"h","r":137,"y":0,"v":28},{"p":"h","r":137,"y":9,"v":28},{"p":"h","r":137,"y":17,"v":27},{"p":"h","r":137,"y":26,"v":25},{"p":"h","r":137,"y":34,"v":21},{"p":"h","r":137,"y":43,"v":16},{"p":"h","r":137,"y":51,"v":9},{"p":"h","r":137,"y":60,"v":4},
{"p":"h","r":154,"y":-60,"v":4},{"p":"h","r":154,"y":-51,"v":9},{"p":"h","r":154,"y":-43,"v":16},{"p":"h","r":154,"y":-34,"v":21},{"p":"h","r":154,"y":-26,"v":25},{"p":"h","r":154,"y":-17,"v":27},{"p":"h","r":154,"y":-9,"v":28},{"p":"h","r":154,"y":0,"v":28},{"p":"h","r":154,"y":9,"v":28},{"p":"h","r":154,"y":17,"v":27},{"p":"h","r":154,"y":26,"v":25},{"p":"h","r":154,"y":34,"v":21},{"p":"h","r":154,"y":43,"v":16},{"p":"h","r":154,"y":51,"v":9},{"p":"h","r":154,"y":60,"v":4},
{"p":"h","r":171,"y":-60,"v":4},{"p":"h","r":171,"y":-51,"v":9},{"p":"h","r":171,"y":-43,"v":15},{"p":"h","r":171,"y":-34,"v":20},{"p":"h","r":171,"y":-26,"v":24},{"p":"h","r":171,"y":-17,"v":26},{"p":"h","r":171,"y":-9,"v":27},{"p":"h","r":171,"y":0,"v":27},{"p":"h","r":171,"y":9,"v":27},{"p":"h","r":171,"y":17,"v":26},{"p":"h","r":171,"y":26,"v":24},{"p":"h","r":171,"y":34,"v":20},{"p":"h","r":171,"y":43,"v":15},{"p":"h","r":171,"y":51,"v":9},{"p":"h","r":171,"y":60,"v":4}
]},
"facet": {"field": "p", "type": "nominal", "sort": "ascending",
  "header": {"title": null, "labelFontSize": 12, "labelFont": "DejaVu Sans", "labelColor": "black", "labelPadding": 0,
    "labelExpr": "(datum.value == 'a' || datum.value == 'e' || datum.value == 'i') ? '±0° Roll, ±0° Yaw Training Range' : (datum.value == 'b' || datum.value == 'f' || datum.value == 'j') ? '±45° Roll, ±20° Yaw Training Range' : (datum.value == 'c' || datum.value == 'g' || datum.value == 'k') ? '±90° Roll, ±40° Yaw Training Range' : '±180° Roll, ±60° Yaw Training Range'"}},
"columns": 4,
"spacing": {"row": 57, "column": 114},
"bounds": "flush",
"resolve": {"axis": {"x": "independent", "y": "independent"}},
"spec": {
  "width": 206, "height": 103,
  "layer": [
    {"transform": [{"filter": "isValid(datum.v)"}],
     "mark": {"type": "rect", "binSpacing": 0, "strokeWidth": 0.6, "stroke": {"expr": "scale('color', datum.v)"}},
     "encoding": {
       "x": {"field": "r", "type": "quantitative", "bin": {"extent": [-180, 180], "step": 17.142857142857142, "nice": false}, "scale": {"domain": [-180, 180], "nice": false, "zero": false}, "title": "Patch Roll (degrees)", "axis": {"values": [-180, -135, -90, -45, 0, 45, 90, 135, 180]}},
       "y": {"field": "y", "type": "quantitative", "bin": {"extent": [-90, 90], "step": 8.571428571428571, "nice": false}, "scale": {"domain": [-90, 90], "nice": false, "zero": false, "reverse": true}, "title": "Patch Yaw (degrees)", "axis": {"values": [-90, -60, -30, 0, 30, 60, 90]}},
       "color": {"field": "v", "type": "quantitative", "scale": {"domain": [0, 12.5, 25, 37.5, 50, 62.5, 75, 87.5, 100], "range": ["#fff5f0", "#fee0d2", "#fcbba1", "#fc9272", "#fb6a4a", "#ef3b2c", "#cb181d", "#a50f15", "#67000d"], "interpolate": "rgb"}, "legend": null}
     }},
    {"transform": [{"filter": "isValid(datum.x0)"}],
     "mark": {"type": "rect", "filled": false, "strokeWidth": 3},
     "encoding": {
       "x": {"field": "x0", "type": "quantitative", "title": "Patch Roll (degrees)"},
       "x2": {"field": "x1"},
       "y": {"field": "y0", "type": "quantitative", "title": "Patch Yaw (degrees)"},
       "y2": {"field": "y1"},
       "stroke": {"datum": "Trained Transformations", "type": "nominal", "scale": {"range": ["black"]},
         "legend": {"orient": "none", "legendX": 530, "legendY": 463, "title": null, "direction": "horizontal",
           "symbolType": "M-1,-0.35H1V0.35H-1Z", "symbolSize": 441, "symbolStrokeWidth": 3, "symbolFillColor": "white",
           "labelFontSize": 10, "labelFont": "DejaVu Sans", "labelColor": "black",
           "strokeColor": "#cccccc", "fillColor": "white", "padding": 3, "cornerRadius": 3}}
     }}
  ]
},
"config": {
  "font": "DejaVu Sans",
  "view": {"stroke": "black", "strokeWidth": 0.8, "fill": "#fff5f0"},
  "axis": {"domainColor": "black", "domainWidth": 0.8, "tickColor": "black", "tickSize": 3.5, "tickWidth": 0.8, "grid": false,
    "labelFont": "DejaVu Sans", "labelFontSize": 10, "labelColor": "black", "labelPadding": 2,
    "titleFont": "DejaVu Sans", "titleFontSize": 10, "titleFontWeight": "normal", "titleColor": "black",
    "labelOverlap": false, "labelFlush": false, "labelExpr": "replace(datum.label, '-', '−')"},
  "axisY": {"titlePadding": 8},
  "axisX": {"titlePadding": 4}
}
}
